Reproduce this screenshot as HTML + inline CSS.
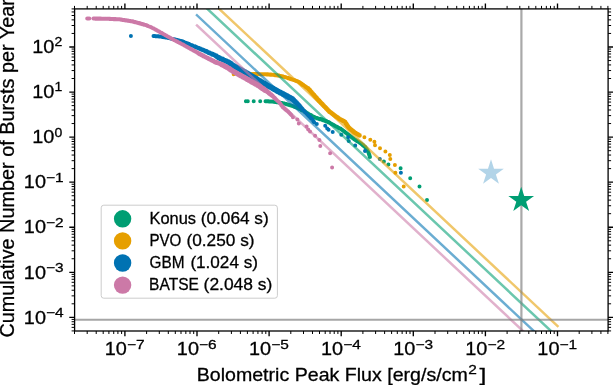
<!DOCTYPE html>
<html lang="en">
<head>
<meta charset="utf-8">
<title>Cumulative Number of Bursts per Year vs Bolometric Peak Flux</title>
<style>
html, body { margin: 0; padding: 0; background: #ffffff; }
body { width: 613px; height: 385px; overflow: hidden; position: relative;
       font-family: "Liberation Sans", sans-serif; }
svg text { font-family: "Liberation Sans", sans-serif; stroke: #000; stroke-width: 0.28px; }
svg { will-change: transform; }
</style>
</head>
<body>
<svg width="613" height="385" viewBox="0 0 613 385" style="display:block;position:absolute;left:0;top:0" font-family="'Liberation Sans', sans-serif" fill="#000">
<rect x="0" y="0" width="613" height="385" fill="#fff"/>
<defs><clipPath id="ax"><rect x="74.6" y="8.9" width="533.5" height="322.1"/></clipPath></defs>
<g clip-path="url(#ax)">
<path fill="#009E73" d="M243.9 101.3a2.00 2.00 0 1 0 4.00 0a2.00 2.00 0 1 0 -4.00 0zM245.8 101.3a2.00 2.00 0 1 0 4.00 0a2.00 2.00 0 1 0 -4.00 0zM251.7 101.3a2.00 2.00 0 1 0 4.00 0a2.00 2.00 0 1 0 -4.00 0zM258.2 101.3a2.00 2.00 0 1 0 4.00 0a2.00 2.00 0 1 0 -4.00 0zM263.5 101.3a2.00 2.00 0 1 0 4.00 0a2.00 2.00 0 1 0 -4.00 0zM264.3 101.3a2.00 2.00 0 1 0 4.00 0a2.00 2.00 0 1 0 -4.00 0zM265.2 101.3a2.00 2.00 0 1 0 4.00 0a2.00 2.00 0 1 0 -4.00 0zM266.0 101.3a2.00 2.00 0 1 0 4.00 0a2.00 2.00 0 1 0 -4.00 0zM266.8 101.4a2.00 2.00 0 1 0 4.00 0a2.00 2.00 0 1 0 -4.00 0zM267.6 101.4a2.00 2.00 0 1 0 4.00 0a2.00 2.00 0 1 0 -4.00 0zM268.5 101.4a2.00 2.00 0 1 0 4.00 0a2.00 2.00 0 1 0 -4.00 0zM269.3 101.4a2.00 2.00 0 1 0 4.00 0a2.00 2.00 0 1 0 -4.00 0zM269.3 101.4a2.00 2.00 0 1 0 4.00 0a2.00 2.00 0 1 0 -4.00 0zM270.2 101.5a2.00 2.00 0 1 0 4.00 0a2.00 2.00 0 1 0 -4.00 0zM271.1 101.7a2.00 2.00 0 1 0 4.00 0a2.00 2.00 0 1 0 -4.00 0zM271.9 101.8a2.00 2.00 0 1 0 4.00 0a2.00 2.00 0 1 0 -4.00 0zM272.8 101.9a2.00 2.00 0 1 0 4.00 0a2.00 2.00 0 1 0 -4.00 0zM273.7 102.1a2.00 2.00 0 1 0 4.00 0a2.00 2.00 0 1 0 -4.00 0zM274.6 102.2a2.00 2.00 0 1 0 4.00 0a2.00 2.00 0 1 0 -4.00 0zM275.4 102.3a2.00 2.00 0 1 0 4.00 0a2.00 2.00 0 1 0 -4.00 0zM276.3 102.5a2.00 2.00 0 1 0 4.00 0a2.00 2.00 0 1 0 -4.00 0zM277.2 102.6a2.00 2.00 0 1 0 4.00 0a2.00 2.00 0 1 0 -4.00 0zM277.2 102.6a2.00 2.00 0 1 0 4.00 0a2.00 2.00 0 1 0 -4.00 0zM278.0 102.8a2.00 2.00 0 1 0 4.00 0a2.00 2.00 0 1 0 -4.00 0zM278.8 102.9a2.00 2.00 0 1 0 4.00 0a2.00 2.00 0 1 0 -4.00 0zM279.6 103.1a2.00 2.00 0 1 0 4.00 0a2.00 2.00 0 1 0 -4.00 0zM280.4 103.2a2.00 2.00 0 1 0 4.00 0a2.00 2.00 0 1 0 -4.00 0zM281.3 103.4a2.00 2.00 0 1 0 4.00 0a2.00 2.00 0 1 0 -4.00 0zM282.1 103.6a2.00 2.00 0 1 0 4.00 0a2.00 2.00 0 1 0 -4.00 0zM282.9 103.7a2.00 2.00 0 1 0 4.00 0a2.00 2.00 0 1 0 -4.00 0zM283.7 103.9a2.00 2.00 0 1 0 4.00 0a2.00 2.00 0 1 0 -4.00 0zM283.7 103.9a2.00 2.00 0 1 0 4.00 0a2.00 2.00 0 1 0 -4.00 0zM284.5 104.2a2.00 2.00 0 1 0 4.00 0a2.00 2.00 0 1 0 -4.00 0zM285.3 104.4a2.00 2.00 0 1 0 4.00 0a2.00 2.00 0 1 0 -4.00 0zM286.1 104.7a2.00 2.00 0 1 0 4.00 0a2.00 2.00 0 1 0 -4.00 0zM286.9 104.9a2.00 2.00 0 1 0 4.00 0a2.00 2.00 0 1 0 -4.00 0zM287.8 105.2a2.00 2.00 0 1 0 4.00 0a2.00 2.00 0 1 0 -4.00 0zM288.6 105.4a2.00 2.00 0 1 0 4.00 0a2.00 2.00 0 1 0 -4.00 0zM289.4 105.7a2.00 2.00 0 1 0 4.00 0a2.00 2.00 0 1 0 -4.00 0zM290.2 105.9a2.00 2.00 0 1 0 4.00 0a2.00 2.00 0 1 0 -4.00 0zM290.2 105.9a2.00 2.00 0 1 0 4.00 0a2.00 2.00 0 1 0 -4.00 0zM291.0 106.2a2.00 2.00 0 1 0 4.00 0a2.00 2.00 0 1 0 -4.00 0zM291.8 106.6a2.00 2.00 0 1 0 4.00 0a2.00 2.00 0 1 0 -4.00 0zM292.6 106.9a2.00 2.00 0 1 0 4.00 0a2.00 2.00 0 1 0 -4.00 0zM293.4 107.2a2.00 2.00 0 1 0 4.00 0a2.00 2.00 0 1 0 -4.00 0zM294.3 107.5a2.00 2.00 0 1 0 4.00 0a2.00 2.00 0 1 0 -4.00 0zM295.1 107.8a2.00 2.00 0 1 0 4.00 0a2.00 2.00 0 1 0 -4.00 0zM295.9 108.2a2.00 2.00 0 1 0 4.00 0a2.00 2.00 0 1 0 -4.00 0zM296.7 108.5a2.00 2.00 0 1 0 4.00 0a2.00 2.00 0 1 0 -4.00 0zM296.7 108.5a2.00 2.00 0 1 0 4.00 0a2.00 2.00 0 1 0 -4.00 0zM297.4 108.9a2.00 2.00 0 1 0 4.00 0a2.00 2.00 0 1 0 -4.00 0zM298.2 109.2a2.00 2.00 0 1 0 4.00 0a2.00 2.00 0 1 0 -4.00 0zM298.9 109.6a2.00 2.00 0 1 0 4.01 0a2.00 2.00 0 1 0 -4.01 0zM299.6 110.0a2.01 2.01 0 1 0 4.01 0a2.01 2.01 0 1 0 -4.01 0zM300.4 110.3a2.01 2.01 0 1 0 4.02 0a2.01 2.01 0 1 0 -4.02 0zM301.1 110.7a2.01 2.01 0 1 0 4.02 0a2.01 2.01 0 1 0 -4.02 0zM301.8 111.1a2.01 2.01 0 1 0 4.03 0a2.01 2.01 0 1 0 -4.03 0zM302.6 111.4a2.02 2.02 0 1 0 4.03 0a2.02 2.02 0 1 0 -4.03 0zM303.3 111.8a2.02 2.02 0 1 0 4.04 0a2.02 2.02 0 1 0 -4.04 0zM303.3 111.8a2.02 2.02 0 1 0 4.04 0a2.02 2.02 0 1 0 -4.04 0zM304.0 112.3a2.02 2.02 0 1 0 4.04 0a2.02 2.02 0 1 0 -4.04 0zM304.8 112.8a2.02 2.02 0 1 0 4.05 0a2.02 2.02 0 1 0 -4.05 0zM305.6 113.3a2.03 2.03 0 1 0 4.05 0a2.03 2.03 0 1 0 -4.05 0zM306.3 113.7a2.03 2.03 0 1 0 4.06 0a2.03 2.03 0 1 0 -4.06 0zM307.1 114.2a2.03 2.03 0 1 0 4.06 0a2.03 2.03 0 1 0 -4.06 0zM307.1 114.2a2.03 2.03 0 1 0 4.06 0a2.03 2.03 0 1 0 -4.06 0zM307.8 114.6a2.03 2.03 0 1 0 4.07 0a2.03 2.03 0 1 0 -4.07 0zM308.5 115.0a2.04 2.04 0 1 0 4.07 0a2.04 2.04 0 1 0 -4.07 0zM309.2 115.4a2.04 2.04 0 1 0 4.08 0a2.04 2.04 0 1 0 -4.08 0zM309.9 115.8a2.04 2.04 0 1 0 4.08 0a2.04 2.04 0 1 0 -4.08 0zM310.7 116.2a2.04 2.04 0 1 0 4.08 0a2.04 2.04 0 1 0 -4.08 0zM311.4 116.6a2.04 2.04 0 1 0 4.09 0a2.04 2.04 0 1 0 -4.09 0zM312.1 117.0a2.05 2.05 0 1 0 4.09 0a2.05 2.05 0 1 0 -4.09 0zM312.8 117.4a2.05 2.05 0 1 0 4.10 0a2.05 2.05 0 1 0 -4.10 0zM313.5 117.8a2.05 2.05 0 1 0 4.10 0a2.05 2.05 0 1 0 -4.10 0zM313.5 117.8a2.05 2.05 0 1 0 4.10 0a2.05 2.05 0 1 0 -4.10 0zM314.4 118.1a2.05 2.05 0 1 0 4.11 0a2.05 2.05 0 1 0 -4.11 0zM315.2 118.3a2.06 2.06 0 1 0 4.11 0a2.06 2.06 0 1 0 -4.11 0zM316.0 118.5a2.06 2.06 0 1 0 4.12 0a2.06 2.06 0 1 0 -4.12 0zM316.8 118.7a2.06 2.06 0 1 0 4.13 0a2.06 2.06 0 1 0 -4.13 0zM317.6 119.0a2.07 2.07 0 1 0 4.13 0a2.07 2.07 0 1 0 -4.13 0zM318.4 119.2a2.07 2.07 0 1 0 4.14 0a2.07 2.07 0 1 0 -4.14 0zM319.2 119.4a2.07 2.07 0 1 0 4.14 0a2.07 2.07 0 1 0 -4.14 0zM320.0 119.6a2.07 2.07 0 1 0 4.15 0a2.07 2.07 0 1 0 -4.15 0zM320.0 119.6a2.07 2.07 0 1 0 4.15 0a2.07 2.07 0 1 0 -4.15 0zM320.8 120.0a2.08 2.08 0 1 0 4.15 0a2.08 2.08 0 1 0 -4.15 0zM321.6 120.3a2.08 2.08 0 1 0 4.16 0a2.08 2.08 0 1 0 -4.16 0zM322.5 120.6a2.08 2.08 0 1 0 4.16 0a2.08 2.08 0 1 0 -4.16 0zM323.3 121.0a2.08 2.08 0 1 0 4.17 0a2.08 2.08 0 1 0 -4.17 0zM324.1 121.3a2.09 2.09 0 1 0 4.17 0a2.09 2.09 0 1 0 -4.17 0zM324.9 121.6a2.09 2.09 0 1 0 4.18 0a2.09 2.09 0 1 0 -4.18 0zM325.7 121.9a2.09 2.09 0 1 0 4.19 0a2.09 2.09 0 1 0 -4.19 0zM326.5 122.3a2.10 2.10 0 1 0 4.19 0a2.10 2.10 0 1 0 -4.19 0zM326.5 122.3a2.10 2.10 0 1 0 4.19 0a2.10 2.10 0 1 0 -4.19 0zM327.2 122.7a2.10 2.10 0 1 0 4.20 0a2.10 2.10 0 1 0 -4.20 0zM328.0 123.1a2.10 2.10 0 1 0 4.20 0a2.10 2.10 0 1 0 -4.20 0zM328.7 123.5a2.10 2.10 0 1 0 4.20 0a2.10 2.10 0 1 0 -4.20 0zM329.4 123.9a2.10 2.10 0 1 0 4.20 0a2.10 2.10 0 1 0 -4.20 0zM330.2 124.3a2.10 2.10 0 1 0 4.20 0a2.10 2.10 0 1 0 -4.20 0zM330.9 124.7a2.10 2.10 0 1 0 4.20 0a2.10 2.10 0 1 0 -4.20 0zM331.6 125.1a2.10 2.10 0 1 0 4.20 0a2.10 2.10 0 1 0 -4.20 0zM332.4 125.5a2.10 2.10 0 1 0 4.20 0a2.10 2.10 0 1 0 -4.20 0zM333.1 126.0a2.10 2.10 0 1 0 4.20 0a2.10 2.10 0 1 0 -4.20 0zM333.1 126.0a2.10 2.10 0 1 0 4.20 0a2.10 2.10 0 1 0 -4.20 0zM333.8 126.3a2.10 2.10 0 1 0 4.20 0a2.10 2.10 0 1 0 -4.20 0zM334.5 126.7a2.10 2.10 0 1 0 4.20 0a2.10 2.10 0 1 0 -4.20 0zM335.3 127.1a2.10 2.10 0 1 0 4.20 0a2.10 2.10 0 1 0 -4.20 0zM336.0 127.5a2.10 2.10 0 1 0 4.20 0a2.10 2.10 0 1 0 -4.20 0zM336.7 127.9a2.10 2.10 0 1 0 4.20 0a2.10 2.10 0 1 0 -4.20 0zM337.4 128.3a2.10 2.10 0 1 0 4.20 0a2.10 2.10 0 1 0 -4.20 0zM338.2 128.7a2.10 2.10 0 1 0 4.20 0a2.10 2.10 0 1 0 -4.20 0zM338.9 129.1a2.10 2.10 0 1 0 4.20 0a2.10 2.10 0 1 0 -4.20 0zM339.6 129.5a2.10 2.10 0 1 0 4.20 0a2.10 2.10 0 1 0 -4.20 0zM339.6 129.5a2.10 2.10 0 1 0 4.20 0a2.10 2.10 0 1 0 -4.20 0zM340.2 130.0a2.10 2.10 0 1 0 4.20 0a2.10 2.10 0 1 0 -4.20 0zM340.9 130.5a2.10 2.10 0 1 0 4.20 0a2.10 2.10 0 1 0 -4.20 0zM341.5 131.0a2.10 2.10 0 1 0 4.20 0a2.10 2.10 0 1 0 -4.20 0zM342.2 131.5a2.10 2.10 0 1 0 4.20 0a2.10 2.10 0 1 0 -4.20 0zM342.8 132.1a2.10 2.10 0 1 0 4.20 0a2.10 2.10 0 1 0 -4.20 0zM343.5 132.6a2.10 2.10 0 1 0 4.20 0a2.10 2.10 0 1 0 -4.20 0zM344.1 133.1a2.10 2.10 0 1 0 4.20 0a2.10 2.10 0 1 0 -4.20 0zM344.8 133.6a2.10 2.10 0 1 0 4.20 0a2.10 2.10 0 1 0 -4.20 0zM345.4 134.1a2.10 2.10 0 1 0 4.20 0a2.10 2.10 0 1 0 -4.20 0zM346.1 134.7a2.10 2.10 0 1 0 4.20 0a2.10 2.10 0 1 0 -4.20 0zM346.1 134.7a2.10 2.10 0 1 0 4.20 0a2.10 2.10 0 1 0 -4.20 0zM346.7 135.1a2.10 2.10 0 1 0 4.20 0a2.10 2.10 0 1 0 -4.20 0zM347.4 135.6a2.10 2.10 0 1 0 4.20 0a2.10 2.10 0 1 0 -4.20 0zM348.0 136.1a2.10 2.10 0 1 0 4.20 0a2.10 2.10 0 1 0 -4.20 0zM348.7 136.6a2.10 2.10 0 1 0 4.20 0a2.10 2.10 0 1 0 -4.20 0zM349.3 137.1a2.10 2.10 0 1 0 4.20 0a2.10 2.10 0 1 0 -4.20 0zM350.0 137.5a2.10 2.10 0 1 0 4.20 0a2.10 2.10 0 1 0 -4.20 0zM350.6 138.0a2.10 2.10 0 1 0 4.20 0a2.10 2.10 0 1 0 -4.20 0zM351.3 138.5a2.10 2.10 0 1 0 4.20 0a2.10 2.10 0 1 0 -4.20 0zM351.9 139.0a2.10 2.10 0 1 0 4.20 0a2.10 2.10 0 1 0 -4.20 0zM352.6 139.5a2.10 2.10 0 1 0 4.20 0a2.10 2.10 0 1 0 -4.20 0zM352.6 139.5a2.10 2.10 0 1 0 4.20 0a2.10 2.10 0 1 0 -4.20 0zM353.3 139.9a2.10 2.10 0 1 0 4.20 0a2.10 2.10 0 1 0 -4.20 0zM354.1 140.4a2.10 2.10 0 1 0 4.20 0a2.10 2.10 0 1 0 -4.20 0zM354.8 140.9a2.10 2.10 0 1 0 4.20 0a2.10 2.10 0 1 0 -4.20 0zM355.5 141.4a2.10 2.10 0 1 0 4.20 0a2.10 2.10 0 1 0 -4.20 0zM356.3 141.8a2.10 2.10 0 1 0 4.20 0a2.10 2.10 0 1 0 -4.20 0zM357.0 142.3a2.10 2.10 0 1 0 4.20 0a2.10 2.10 0 1 0 -4.20 0zM357.7 142.8a2.10 2.10 0 1 0 4.20 0a2.10 2.10 0 1 0 -4.20 0zM358.5 143.3a2.10 2.10 0 1 0 4.20 0a2.10 2.10 0 1 0 -4.20 0zM359.2 143.8a2.10 2.10 0 1 0 4.20 0a2.10 2.10 0 1 0 -4.20 0zM359.2 143.8a2.10 2.10 0 1 0 4.20 0a2.10 2.10 0 1 0 -4.20 0zM359.8 144.3a2.10 2.10 0 1 0 4.20 0a2.10 2.10 0 1 0 -4.20 0zM360.5 144.9a2.10 2.10 0 1 0 4.20 0a2.10 2.10 0 1 0 -4.20 0zM361.1 145.4a2.10 2.10 0 1 0 4.20 0a2.10 2.10 0 1 0 -4.20 0zM361.8 146.0a2.10 2.10 0 1 0 4.20 0a2.10 2.10 0 1 0 -4.20 0zM362.4 146.5a2.10 2.10 0 1 0 4.20 0a2.10 2.10 0 1 0 -4.20 0zM363.1 147.1a2.10 2.10 0 1 0 4.20 0a2.10 2.10 0 1 0 -4.20 0zM363.1 147.1a2.10 2.10 0 1 0 4.20 0a2.10 2.10 0 1 0 -4.20 0zM363.5 147.8a2.10 2.10 0 1 0 4.20 0a2.10 2.10 0 1 0 -4.20 0zM364.0 148.5a2.10 2.10 0 1 0 4.20 0a2.10 2.10 0 1 0 -4.20 0zM364.4 149.2a2.10 2.10 0 1 0 4.20 0a2.10 2.10 0 1 0 -4.20 0zM364.9 149.9a2.10 2.10 0 1 0 4.20 0a2.10 2.10 0 1 0 -4.20 0zM365.3 150.6a2.10 2.10 0 1 0 4.20 0a2.10 2.10 0 1 0 -4.20 0zM365.8 151.3a2.10 2.10 0 1 0 4.20 0a2.10 2.10 0 1 0 -4.20 0zM366.2 152.0a2.10 2.10 0 1 0 4.20 0a2.10 2.10 0 1 0 -4.20 0zM366.2 152.0a2.10 2.10 0 1 0 4.20 0a2.10 2.10 0 1 0 -4.20 0zM366.5 152.8a2.10 2.10 0 1 0 4.20 0a2.10 2.10 0 1 0 -4.20 0zM366.7 153.6a2.10 2.10 0 1 0 4.20 0a2.10 2.10 0 1 0 -4.20 0zM367.0 154.4a2.10 2.10 0 1 0 4.20 0a2.10 2.10 0 1 0 -4.20 0zM367.3 155.2a2.10 2.10 0 1 0 4.20 0a2.10 2.10 0 1 0 -4.20 0zM367.5 156.0a2.10 2.10 0 1 0 4.20 0a2.10 2.10 0 1 0 -4.20 0zM367.8 156.9a2.10 2.10 0 1 0 4.20 0a2.10 2.10 0 1 0 -4.20 0zM381.9 161.6a2.00 2.00 0 1 0 4.00 0a2.00 2.00 0 1 0 -4.00 0zM386.4 164.5a2.00 2.00 0 1 0 4.00 0a2.00 2.00 0 1 0 -4.00 0zM398.6 168.3a2.00 2.00 0 1 0 4.00 0a2.00 2.00 0 1 0 -4.00 0zM408.2 178.3a2.00 2.00 0 1 0 4.00 0a2.00 2.00 0 1 0 -4.00 0zM417.5 186.4a2.00 2.00 0 1 0 4.00 0a2.00 2.00 0 1 0 -4.00 0zM425.0 199.9a2.00 2.00 0 1 0 4.00 0a2.00 2.00 0 1 0 -4.00 0z"/>
<path fill="#E69F00" d="M231.7 74.2a2.00 2.00 0 1 0 4.00 0a2.00 2.00 0 1 0 -4.00 0zM239.9 73.8a2.00 2.00 0 1 0 4.00 0a2.00 2.00 0 1 0 -4.00 0zM249.9 74.0a2.05 2.05 0 1 0 4.10 0a2.05 2.05 0 1 0 -4.10 0zM250.8 74.0a2.05 2.05 0 1 0 4.10 0a2.05 2.05 0 1 0 -4.10 0zM251.6 74.1a2.05 2.05 0 1 0 4.10 0a2.05 2.05 0 1 0 -4.10 0zM252.4 74.1a2.05 2.05 0 1 0 4.10 0a2.05 2.05 0 1 0 -4.10 0zM253.2 74.1a2.05 2.05 0 1 0 4.10 0a2.05 2.05 0 1 0 -4.10 0zM254.0 74.1a2.05 2.05 0 1 0 4.10 0a2.05 2.05 0 1 0 -4.10 0zM254.8 74.1a2.05 2.05 0 1 0 4.10 0a2.05 2.05 0 1 0 -4.10 0zM255.6 74.2a2.05 2.05 0 1 0 4.10 0a2.05 2.05 0 1 0 -4.10 0zM256.4 74.2a2.05 2.05 0 1 0 4.10 0a2.05 2.05 0 1 0 -4.10 0zM257.2 74.2a2.05 2.05 0 1 0 4.10 0a2.05 2.05 0 1 0 -4.10 0zM258.0 74.2a2.05 2.05 0 1 0 4.10 0a2.05 2.05 0 1 0 -4.10 0zM258.8 74.2a2.05 2.05 0 1 0 4.10 0a2.05 2.05 0 1 0 -4.10 0zM259.6 74.2a2.05 2.05 0 1 0 4.10 0a2.05 2.05 0 1 0 -4.10 0zM260.4 74.3a2.05 2.05 0 1 0 4.10 0a2.05 2.05 0 1 0 -4.10 0zM261.2 74.3a2.05 2.05 0 1 0 4.10 0a2.05 2.05 0 1 0 -4.10 0zM262.0 74.3a2.05 2.05 0 1 0 4.10 0a2.05 2.05 0 1 0 -4.10 0zM262.8 74.3a2.05 2.05 0 1 0 4.10 0a2.05 2.05 0 1 0 -4.10 0zM263.6 74.3a2.05 2.05 0 1 0 4.10 0a2.05 2.05 0 1 0 -4.10 0zM263.6 74.3a2.05 2.05 0 1 0 4.10 0a2.05 2.05 0 1 0 -4.10 0zM264.5 74.4a2.05 2.05 0 1 0 4.10 0a2.05 2.05 0 1 0 -4.10 0zM265.3 74.4a2.05 2.05 0 1 0 4.10 0a2.05 2.05 0 1 0 -4.10 0zM266.1 74.5a2.05 2.05 0 1 0 4.10 0a2.05 2.05 0 1 0 -4.10 0zM266.9 74.5a2.05 2.05 0 1 0 4.10 0a2.05 2.05 0 1 0 -4.10 0zM267.7 74.6a2.05 2.05 0 1 0 4.10 0a2.05 2.05 0 1 0 -4.10 0zM268.5 74.6a2.05 2.05 0 1 0 4.10 0a2.05 2.05 0 1 0 -4.10 0zM269.3 74.7a2.05 2.05 0 1 0 4.10 0a2.05 2.05 0 1 0 -4.10 0zM270.1 74.7a2.05 2.05 0 1 0 4.10 0a2.05 2.05 0 1 0 -4.10 0zM270.1 74.7a2.05 2.05 0 1 0 4.10 0a2.05 2.05 0 1 0 -4.10 0zM271.0 74.8a2.05 2.05 0 1 0 4.10 0a2.05 2.05 0 1 0 -4.10 0zM271.8 75.0a2.05 2.05 0 1 0 4.10 0a2.05 2.05 0 1 0 -4.10 0zM272.6 75.1a2.05 2.05 0 1 0 4.10 0a2.05 2.05 0 1 0 -4.10 0zM273.4 75.2a2.05 2.05 0 1 0 4.10 0a2.05 2.05 0 1 0 -4.10 0zM274.2 75.3a2.05 2.05 0 1 0 4.10 0a2.05 2.05 0 1 0 -4.10 0zM275.0 75.4a2.05 2.05 0 1 0 4.10 0a2.05 2.05 0 1 0 -4.10 0zM275.8 75.5a2.05 2.05 0 1 0 4.10 0a2.05 2.05 0 1 0 -4.10 0zM276.6 75.6a2.05 2.05 0 1 0 4.10 0a2.05 2.05 0 1 0 -4.10 0zM276.6 75.6a2.05 2.05 0 1 0 4.10 0a2.05 2.05 0 1 0 -4.10 0zM277.5 75.8a2.05 2.05 0 1 0 4.10 0a2.05 2.05 0 1 0 -4.10 0zM278.3 76.0a2.05 2.05 0 1 0 4.10 0a2.05 2.05 0 1 0 -4.10 0zM279.1 76.2a2.05 2.05 0 1 0 4.10 0a2.05 2.05 0 1 0 -4.10 0zM279.9 76.4a2.05 2.05 0 1 0 4.10 0a2.05 2.05 0 1 0 -4.10 0zM280.8 76.6a2.05 2.05 0 1 0 4.10 0a2.05 2.05 0 1 0 -4.10 0zM281.6 76.8a2.05 2.05 0 1 0 4.10 0a2.05 2.05 0 1 0 -4.10 0zM282.4 77.0a2.05 2.05 0 1 0 4.10 0a2.05 2.05 0 1 0 -4.10 0zM283.2 77.2a2.05 2.05 0 1 0 4.10 0a2.05 2.05 0 1 0 -4.10 0zM283.2 77.2a2.05 2.05 0 1 0 4.10 0a2.05 2.05 0 1 0 -4.10 0zM284.1 77.5a2.05 2.05 0 1 0 4.10 0a2.05 2.05 0 1 0 -4.10 0zM284.9 77.8a2.05 2.05 0 1 0 4.10 0a2.05 2.05 0 1 0 -4.10 0zM285.7 78.1a2.05 2.05 0 1 0 4.10 0a2.05 2.05 0 1 0 -4.10 0zM286.5 78.3a2.05 2.05 0 1 0 4.10 0a2.05 2.05 0 1 0 -4.10 0zM287.3 78.6a2.05 2.05 0 1 0 4.10 0a2.05 2.05 0 1 0 -4.10 0zM288.1 78.9a2.05 2.05 0 1 0 4.10 0a2.05 2.05 0 1 0 -4.10 0zM288.9 79.2a2.05 2.05 0 1 0 4.10 0a2.05 2.05 0 1 0 -4.10 0zM289.8 79.4a2.05 2.05 0 1 0 4.10 0a2.05 2.05 0 1 0 -4.10 0zM289.8 79.4a2.05 2.05 0 1 0 4.10 0a2.05 2.05 0 1 0 -4.10 0zM290.6 79.7a2.05 2.05 0 1 0 4.10 0a2.05 2.05 0 1 0 -4.10 0zM291.4 80.0a2.05 2.05 0 1 0 4.10 0a2.05 2.05 0 1 0 -4.10 0zM292.3 80.3a2.05 2.05 0 1 0 4.10 0a2.05 2.05 0 1 0 -4.10 0zM293.1 80.6a2.05 2.05 0 1 0 4.10 0a2.05 2.05 0 1 0 -4.10 0zM293.9 80.9a2.06 2.06 0 1 0 4.12 0a2.06 2.06 0 1 0 -4.12 0zM294.8 81.2a2.07 2.07 0 1 0 4.15 0a2.07 2.07 0 1 0 -4.15 0zM295.6 81.5a2.08 2.08 0 1 0 4.17 0a2.08 2.08 0 1 0 -4.17 0zM296.4 81.8a2.09 2.09 0 1 0 4.19 0a2.09 2.09 0 1 0 -4.19 0zM296.4 81.8a2.09 2.09 0 1 0 4.19 0a2.09 2.09 0 1 0 -4.19 0zM297.1 82.2a2.10 2.10 0 1 0 4.20 0a2.10 2.10 0 1 0 -4.20 0zM297.8 82.7a2.11 2.11 0 1 0 4.22 0a2.11 2.11 0 1 0 -4.22 0zM298.5 83.2a2.12 2.12 0 1 0 4.24 0a2.12 2.12 0 1 0 -4.24 0zM299.2 83.7a2.13 2.13 0 1 0 4.26 0a2.13 2.13 0 1 0 -4.26 0zM299.9 84.2a2.14 2.14 0 1 0 4.27 0a2.14 2.14 0 1 0 -4.27 0zM300.6 84.7a2.15 2.15 0 1 0 4.29 0a2.15 2.15 0 1 0 -4.29 0zM301.2 85.1a2.15 2.15 0 1 0 4.31 0a2.15 2.15 0 1 0 -4.31 0zM301.9 85.6a2.16 2.16 0 1 0 4.33 0a2.16 2.16 0 1 0 -4.33 0zM302.6 86.1a2.17 2.17 0 1 0 4.34 0a2.17 2.17 0 1 0 -4.34 0zM303.3 86.6a2.18 2.18 0 1 0 4.36 0a2.18 2.18 0 1 0 -4.36 0zM304.0 87.1a2.19 2.19 0 1 0 4.38 0a2.19 2.19 0 1 0 -4.38 0zM304.7 87.6a2.20 2.20 0 1 0 4.40 0a2.20 2.20 0 1 0 -4.40 0zM305.4 88.0a2.21 2.21 0 1 0 4.42 0a2.21 2.21 0 1 0 -4.42 0zM306.1 88.5a2.22 2.22 0 1 0 4.43 0a2.22 2.22 0 1 0 -4.43 0zM306.1 88.5a2.22 2.22 0 1 0 4.43 0a2.22 2.22 0 1 0 -4.43 0zM306.6 89.2a2.22 2.22 0 1 0 4.45 0a2.22 2.22 0 1 0 -4.45 0zM307.2 89.8a2.23 2.23 0 1 0 4.46 0a2.23 2.23 0 1 0 -4.46 0zM307.7 90.4a2.24 2.24 0 1 0 4.47 0a2.24 2.24 0 1 0 -4.47 0zM308.2 91.0a2.24 2.24 0 1 0 4.49 0a2.24 2.24 0 1 0 -4.49 0zM308.8 91.7a2.25 2.25 0 1 0 4.50 0a2.25 2.25 0 1 0 -4.50 0zM309.3 92.3a2.26 2.26 0 1 0 4.51 0a2.26 2.26 0 1 0 -4.51 0zM309.8 92.9a2.26 2.26 0 1 0 4.53 0a2.26 2.26 0 1 0 -4.53 0zM310.4 93.5a2.27 2.27 0 1 0 4.54 0a2.27 2.27 0 1 0 -4.54 0zM310.9 94.2a2.28 2.28 0 1 0 4.56 0a2.28 2.28 0 1 0 -4.56 0zM311.5 94.8a2.28 2.28 0 1 0 4.57 0a2.28 2.28 0 1 0 -4.57 0zM312.0 95.4a2.29 2.29 0 1 0 4.58 0a2.29 2.29 0 1 0 -4.58 0zM312.5 96.0a2.30 2.30 0 1 0 4.60 0a2.30 2.30 0 1 0 -4.60 0zM313.1 96.7a2.30 2.30 0 1 0 4.60 0a2.30 2.30 0 1 0 -4.60 0zM313.6 97.3a2.30 2.30 0 1 0 4.60 0a2.30 2.30 0 1 0 -4.60 0zM314.2 97.9a2.30 2.30 0 1 0 4.60 0a2.30 2.30 0 1 0 -4.60 0zM314.7 98.5a2.30 2.30 0 1 0 4.60 0a2.30 2.30 0 1 0 -4.60 0zM315.3 99.2a2.30 2.30 0 1 0 4.60 0a2.30 2.30 0 1 0 -4.60 0zM315.8 99.8a2.30 2.30 0 1 0 4.60 0a2.30 2.30 0 1 0 -4.60 0zM315.8 99.8a2.30 2.30 0 1 0 4.60 0a2.30 2.30 0 1 0 -4.60 0zM316.4 100.4a2.30 2.30 0 1 0 4.60 0a2.30 2.30 0 1 0 -4.60 0zM316.9 100.9a2.30 2.30 0 1 0 4.60 0a2.30 2.30 0 1 0 -4.60 0zM317.5 101.5a2.30 2.30 0 1 0 4.60 0a2.30 2.30 0 1 0 -4.60 0zM318.0 102.1a2.30 2.30 0 1 0 4.60 0a2.30 2.30 0 1 0 -4.60 0zM318.6 102.7a2.30 2.30 0 1 0 4.60 0a2.30 2.30 0 1 0 -4.60 0zM319.1 103.3a2.30 2.30 0 1 0 4.60 0a2.30 2.30 0 1 0 -4.60 0zM319.7 103.8a2.30 2.30 0 1 0 4.60 0a2.30 2.30 0 1 0 -4.60 0zM320.2 104.4a2.30 2.30 0 1 0 4.60 0a2.30 2.30 0 1 0 -4.60 0zM320.8 105.0a2.30 2.30 0 1 0 4.60 0a2.30 2.30 0 1 0 -4.60 0zM321.3 105.6a2.30 2.30 0 1 0 4.60 0a2.30 2.30 0 1 0 -4.60 0zM321.9 106.2a2.30 2.30 0 1 0 4.60 0a2.30 2.30 0 1 0 -4.60 0zM322.5 106.7a2.30 2.30 0 1 0 4.60 0a2.30 2.30 0 1 0 -4.60 0zM323.0 107.3a2.30 2.30 0 1 0 4.60 0a2.30 2.30 0 1 0 -4.60 0zM323.6 107.9a2.30 2.30 0 1 0 4.60 0a2.30 2.30 0 1 0 -4.60 0zM324.1 108.5a2.30 2.30 0 1 0 4.60 0a2.30 2.30 0 1 0 -4.60 0zM324.7 109.1a2.30 2.30 0 1 0 4.60 0a2.30 2.30 0 1 0 -4.60 0zM325.2 109.6a2.30 2.30 0 1 0 4.60 0a2.30 2.30 0 1 0 -4.60 0zM325.8 110.2a2.30 2.30 0 1 0 4.60 0a2.30 2.30 0 1 0 -4.60 0zM326.3 110.8a2.30 2.30 0 1 0 4.60 0a2.30 2.30 0 1 0 -4.60 0zM326.9 111.4a2.30 2.30 0 1 0 4.60 0a2.30 2.30 0 1 0 -4.60 0zM326.9 111.4a2.30 2.30 0 1 0 4.60 0a2.30 2.30 0 1 0 -4.60 0zM327.5 111.9a2.30 2.30 0 1 0 4.60 0a2.30 2.30 0 1 0 -4.60 0zM328.2 112.3a2.30 2.30 0 1 0 4.60 0a2.30 2.30 0 1 0 -4.60 0zM328.8 112.8a2.30 2.30 0 1 0 4.60 0a2.30 2.30 0 1 0 -4.60 0zM329.5 113.3a2.30 2.30 0 1 0 4.60 0a2.30 2.30 0 1 0 -4.60 0zM330.1 113.8a2.30 2.30 0 1 0 4.60 0a2.30 2.30 0 1 0 -4.60 0zM330.8 114.3a2.30 2.30 0 1 0 4.60 0a2.30 2.30 0 1 0 -4.60 0zM331.4 114.7a2.30 2.30 0 1 0 4.60 0a2.30 2.30 0 1 0 -4.60 0zM332.1 115.2a2.30 2.30 0 1 0 4.60 0a2.30 2.30 0 1 0 -4.60 0zM332.7 115.7a2.30 2.30 0 1 0 4.60 0a2.30 2.30 0 1 0 -4.60 0zM333.4 116.2a2.30 2.30 0 1 0 4.60 0a2.30 2.30 0 1 0 -4.60 0zM334.0 116.7a2.30 2.30 0 1 0 4.60 0a2.30 2.30 0 1 0 -4.60 0zM334.7 117.1a2.30 2.30 0 1 0 4.60 0a2.30 2.30 0 1 0 -4.60 0zM335.3 117.6a2.30 2.30 0 1 0 4.60 0a2.30 2.30 0 1 0 -4.60 0zM336.0 118.1a2.30 2.30 0 1 0 4.60 0a2.30 2.30 0 1 0 -4.60 0zM336.6 118.6a2.30 2.30 0 1 0 4.60 0a2.30 2.30 0 1 0 -4.60 0zM336.6 118.6a2.30 2.30 0 1 0 4.60 0a2.30 2.30 0 1 0 -4.60 0zM337.3 119.0a2.30 2.30 0 1 0 4.60 0a2.30 2.30 0 1 0 -4.60 0zM338.1 119.4a2.30 2.30 0 1 0 4.60 0a2.30 2.30 0 1 0 -4.60 0zM338.8 119.7a2.30 2.30 0 1 0 4.60 0a2.30 2.30 0 1 0 -4.60 0zM339.6 120.1a2.30 2.30 0 1 0 4.60 0a2.30 2.30 0 1 0 -4.60 0zM340.3 120.5a2.30 2.30 0 1 0 4.60 0a2.30 2.30 0 1 0 -4.60 0zM341.0 120.9a2.30 2.30 0 1 0 4.60 0a2.30 2.30 0 1 0 -4.60 0zM341.8 121.3a2.30 2.30 0 1 0 4.60 0a2.30 2.30 0 1 0 -4.60 0zM342.5 121.7a2.30 2.30 0 1 0 4.60 0a2.30 2.30 0 1 0 -4.60 0zM342.5 121.7a2.30 2.30 0 1 0 4.60 0a2.30 2.30 0 1 0 -4.60 0zM343.0 122.4a2.30 2.30 0 1 0 4.60 0a2.30 2.30 0 1 0 -4.60 0zM343.5 123.2a2.30 2.30 0 1 0 4.60 0a2.30 2.30 0 1 0 -4.60 0zM344.0 123.9a2.30 2.30 0 1 0 4.60 0a2.30 2.30 0 1 0 -4.60 0zM344.4 124.6a2.30 2.30 0 1 0 4.60 0a2.30 2.30 0 1 0 -4.60 0zM344.9 125.4a2.30 2.30 0 1 0 4.60 0a2.30 2.30 0 1 0 -4.60 0zM345.4 126.1a2.30 2.30 0 1 0 4.60 0a2.30 2.30 0 1 0 -4.60 0zM345.9 126.8a2.30 2.30 0 1 0 4.60 0a2.30 2.30 0 1 0 -4.60 0zM346.4 127.6a2.30 2.30 0 1 0 4.60 0a2.30 2.30 0 1 0 -4.60 0zM346.4 127.6a2.30 2.30 0 1 0 4.60 0a2.30 2.30 0 1 0 -4.60 0zM347.1 128.1a2.30 2.30 0 1 0 4.60 0a2.30 2.30 0 1 0 -4.60 0zM347.7 128.7a2.30 2.30 0 1 0 4.60 0a2.30 2.30 0 1 0 -4.60 0zM348.4 129.2a2.30 2.30 0 1 0 4.60 0a2.30 2.30 0 1 0 -4.60 0zM349.0 129.8a2.30 2.30 0 1 0 4.60 0a2.30 2.30 0 1 0 -4.60 0zM349.7 130.3a2.30 2.30 0 1 0 4.60 0a2.30 2.30 0 1 0 -4.60 0zM350.3 130.8a2.30 2.30 0 1 0 4.60 0a2.30 2.30 0 1 0 -4.60 0zM351.0 131.4a2.30 2.30 0 1 0 4.60 0a2.30 2.30 0 1 0 -4.60 0zM351.6 131.9a2.30 2.30 0 1 0 4.60 0a2.30 2.30 0 1 0 -4.60 0zM352.3 132.5a2.30 2.30 0 1 0 4.60 0a2.30 2.30 0 1 0 -4.60 0zM352.3 132.5a2.30 2.30 0 1 0 4.60 0a2.30 2.30 0 1 0 -4.60 0zM353.0 132.9a2.30 2.30 0 1 0 4.60 0a2.30 2.30 0 1 0 -4.60 0zM353.7 133.3a2.30 2.30 0 1 0 4.60 0a2.30 2.30 0 1 0 -4.60 0zM354.4 133.7a2.30 2.30 0 1 0 4.60 0a2.30 2.30 0 1 0 -4.60 0zM355.1 134.1a2.30 2.30 0 1 0 4.60 0a2.30 2.30 0 1 0 -4.60 0zM355.8 134.6a2.30 2.30 0 1 0 4.60 0a2.30 2.30 0 1 0 -4.60 0zM356.5 135.0a2.30 2.30 0 1 0 4.60 0a2.30 2.30 0 1 0 -4.60 0zM357.2 135.4a2.30 2.30 0 1 0 4.60 0a2.30 2.30 0 1 0 -4.60 0zM362.4 137.2a2.00 2.00 0 1 0 4.00 0a2.00 2.00 0 1 0 -4.00 0zM368.3 139.7a2.00 2.00 0 1 0 4.00 0a2.00 2.00 0 1 0 -4.00 0zM372.4 141.7a2.00 2.00 0 1 0 4.00 0a2.00 2.00 0 1 0 -4.00 0zM373.0 145.3a2.00 2.00 0 1 0 4.00 0a2.00 2.00 0 1 0 -4.00 0zM378.0 148.3a2.00 2.00 0 1 0 4.00 0a2.00 2.00 0 1 0 -4.00 0zM383.4 151.4a2.00 2.00 0 1 0 4.00 0a2.00 2.00 0 1 0 -4.00 0zM387.8 155.1a2.00 2.00 0 1 0 4.00 0a2.00 2.00 0 1 0 -4.00 0zM388.3 159.0a2.00 2.00 0 1 0 4.00 0a2.00 2.00 0 1 0 -4.00 0zM392.9 164.9a2.00 2.00 0 1 0 4.00 0a2.00 2.00 0 1 0 -4.00 0zM393.4 172.7a2.00 2.00 0 1 0 4.00 0a2.00 2.00 0 1 0 -4.00 0zM401.7 186.6a2.00 2.00 0 1 0 4.00 0a2.00 2.00 0 1 0 -4.00 0z"/>
<path fill="#0072B2" d="M128.9 36.1a2.00 2.00 0 1 0 4.00 0a2.00 2.00 0 1 0 -4.00 0zM151.5 36.1a2.00 2.00 0 1 0 4.00 0a2.00 2.00 0 1 0 -4.00 0zM152.4 36.1a2.00 2.00 0 1 0 4.00 0a2.00 2.00 0 1 0 -4.00 0zM153.3 36.2a2.00 2.00 0 1 0 4.00 0a2.00 2.00 0 1 0 -4.00 0zM154.2 36.2a2.00 2.00 0 1 0 4.00 0a2.00 2.00 0 1 0 -4.00 0zM155.1 36.3a2.00 2.00 0 1 0 4.00 0a2.00 2.00 0 1 0 -4.00 0zM156.0 36.3a2.00 2.00 0 1 0 4.00 0a2.00 2.00 0 1 0 -4.00 0zM156.0 36.3a2.00 2.00 0 1 0 4.00 0a2.00 2.00 0 1 0 -4.00 0zM156.8 36.4a2.00 2.00 0 1 0 4.00 0a2.00 2.00 0 1 0 -4.00 0zM157.7 36.5a2.00 2.00 0 1 0 4.00 0a2.00 2.00 0 1 0 -4.00 0zM158.6 36.6a2.00 2.00 0 1 0 4.00 0a2.00 2.00 0 1 0 -4.00 0zM159.4 36.8a2.00 2.00 0 1 0 4.00 0a2.00 2.00 0 1 0 -4.00 0zM160.2 36.9a2.00 2.00 0 1 0 4.00 0a2.00 2.00 0 1 0 -4.00 0zM161.1 37.0a2.00 2.00 0 1 0 4.00 0a2.00 2.00 0 1 0 -4.00 0zM161.1 37.0a2.00 2.00 0 1 0 4.00 0a2.00 2.00 0 1 0 -4.00 0zM161.9 37.2a2.00 2.00 0 1 0 4.00 0a2.00 2.00 0 1 0 -4.00 0zM162.7 37.3a2.00 2.00 0 1 0 4.00 0a2.00 2.00 0 1 0 -4.00 0zM163.5 37.5a2.00 2.00 0 1 0 4.00 0a2.00 2.00 0 1 0 -4.00 0zM164.3 37.6a2.00 2.00 0 1 0 4.00 0a2.00 2.00 0 1 0 -4.00 0zM165.2 37.8a2.00 2.00 0 1 0 4.00 0a2.00 2.00 0 1 0 -4.00 0zM166.0 38.0a2.00 2.00 0 1 0 4.00 0a2.00 2.00 0 1 0 -4.00 0zM166.8 38.1a2.00 2.00 0 1 0 4.00 0a2.00 2.00 0 1 0 -4.00 0zM167.6 38.3a2.00 2.00 0 1 0 4.00 0a2.00 2.00 0 1 0 -4.00 0zM167.6 38.3a2.00 2.00 0 1 0 4.00 0a2.00 2.00 0 1 0 -4.00 0zM168.4 38.5a2.00 2.00 0 1 0 4.00 0a2.00 2.00 0 1 0 -4.00 0zM169.2 38.7a2.00 2.00 0 1 0 4.00 0a2.00 2.00 0 1 0 -4.00 0zM170.0 38.9a2.00 2.00 0 1 0 4.00 0a2.00 2.00 0 1 0 -4.00 0zM170.8 39.0a2.00 2.00 0 1 0 4.00 0a2.00 2.00 0 1 0 -4.00 0zM171.6 39.2a2.00 2.00 0 1 0 4.00 0a2.00 2.00 0 1 0 -4.00 0zM172.4 39.4a2.00 2.00 0 1 0 4.00 0a2.00 2.00 0 1 0 -4.00 0zM173.2 39.6a2.00 2.00 0 1 0 4.00 0a2.00 2.00 0 1 0 -4.00 0zM174.0 39.8a2.00 2.00 0 1 0 4.00 0a2.00 2.00 0 1 0 -4.00 0zM174.0 39.8a2.00 2.00 0 1 0 4.00 0a2.00 2.00 0 1 0 -4.00 0zM174.8 40.0a2.00 2.00 0 1 0 4.00 0a2.00 2.00 0 1 0 -4.00 0zM175.7 40.2a2.00 2.00 0 1 0 4.00 0a2.00 2.00 0 1 0 -4.00 0zM176.5 40.4a2.00 2.00 0 1 0 4.00 0a2.00 2.00 0 1 0 -4.00 0zM177.3 40.6a2.00 2.00 0 1 0 4.00 0a2.00 2.00 0 1 0 -4.00 0zM178.1 40.9a2.00 2.00 0 1 0 4.00 0a2.00 2.00 0 1 0 -4.00 0zM178.9 41.1a2.00 2.00 0 1 0 4.00 0a2.00 2.00 0 1 0 -4.00 0zM179.8 41.3a2.00 2.00 0 1 0 4.00 0a2.00 2.00 0 1 0 -4.00 0zM180.6 41.5a2.00 2.00 0 1 0 4.00 0a2.00 2.00 0 1 0 -4.00 0zM180.6 41.5a2.00 2.00 0 1 0 4.00 0a2.00 2.00 0 1 0 -4.00 0zM181.4 41.8a2.00 2.00 0 1 0 4.00 0a2.00 2.00 0 1 0 -4.00 0zM182.2 42.2a2.00 2.00 0 1 0 4.00 0a2.00 2.00 0 1 0 -4.00 0zM183.1 42.5a2.00 2.00 0 1 0 4.00 0a2.00 2.00 0 1 0 -4.00 0zM183.9 42.9a2.01 2.01 0 1 0 4.03 0a2.01 2.01 0 1 0 -4.03 0zM184.7 43.2a2.03 2.03 0 1 0 4.06 0a2.03 2.03 0 1 0 -4.06 0zM185.5 43.5a2.04 2.04 0 1 0 4.08 0a2.04 2.04 0 1 0 -4.08 0zM186.3 43.9a2.05 2.05 0 1 0 4.11 0a2.05 2.05 0 1 0 -4.11 0zM187.1 44.2a2.07 2.07 0 1 0 4.13 0a2.07 2.07 0 1 0 -4.13 0zM187.1 44.2a2.07 2.07 0 1 0 4.13 0a2.07 2.07 0 1 0 -4.13 0zM187.9 44.6a2.08 2.08 0 1 0 4.16 0a2.08 2.08 0 1 0 -4.16 0zM188.6 44.9a2.09 2.09 0 1 0 4.18 0a2.09 2.09 0 1 0 -4.18 0zM189.4 45.2a2.10 2.10 0 1 0 4.21 0a2.10 2.10 0 1 0 -4.21 0zM190.1 45.5a2.12 2.12 0 1 0 4.23 0a2.12 2.12 0 1 0 -4.23 0zM190.9 45.8a2.13 2.13 0 1 0 4.26 0a2.13 2.13 0 1 0 -4.26 0zM191.6 46.1a2.14 2.14 0 1 0 4.28 0a2.14 2.14 0 1 0 -4.28 0zM192.4 46.4a2.15 2.15 0 1 0 4.31 0a2.15 2.15 0 1 0 -4.31 0zM193.2 46.7a2.17 2.17 0 1 0 4.33 0a2.17 2.17 0 1 0 -4.33 0zM193.9 47.1a2.18 2.18 0 1 0 4.35 0a2.18 2.18 0 1 0 -4.35 0zM194.7 47.4a2.19 2.19 0 1 0 4.38 0a2.19 2.19 0 1 0 -4.38 0zM195.4 47.7a2.20 2.20 0 1 0 4.40 0a2.20 2.20 0 1 0 -4.40 0zM196.2 48.0a2.21 2.21 0 1 0 4.43 0a2.21 2.21 0 1 0 -4.43 0zM196.9 48.3a2.23 2.23 0 1 0 4.45 0a2.23 2.23 0 1 0 -4.45 0zM197.7 48.6a2.24 2.24 0 1 0 4.48 0a2.24 2.24 0 1 0 -4.48 0zM198.4 48.9a2.25 2.25 0 1 0 4.50 0a2.25 2.25 0 1 0 -4.50 0zM199.2 49.3a2.26 2.26 0 1 0 4.53 0a2.26 2.26 0 1 0 -4.53 0zM199.9 49.6a2.28 2.28 0 1 0 4.55 0a2.28 2.28 0 1 0 -4.55 0zM199.9 49.6a2.28 2.28 0 1 0 4.55 0a2.28 2.28 0 1 0 -4.55 0zM200.7 49.9a2.29 2.29 0 1 0 4.58 0a2.29 2.29 0 1 0 -4.58 0zM201.4 50.3a2.30 2.30 0 1 0 4.60 0a2.30 2.30 0 1 0 -4.60 0zM202.2 50.6a2.31 2.31 0 1 0 4.62 0a2.31 2.31 0 1 0 -4.62 0zM203.0 51.0a2.32 2.32 0 1 0 4.65 0a2.32 2.32 0 1 0 -4.65 0zM203.7 51.3a2.34 2.34 0 1 0 4.67 0a2.34 2.34 0 1 0 -4.67 0zM204.5 51.7a2.35 2.35 0 1 0 4.70 0a2.35 2.35 0 1 0 -4.70 0zM205.2 52.0a2.36 2.36 0 1 0 4.72 0a2.36 2.36 0 1 0 -4.72 0zM206.0 52.4a2.37 2.37 0 1 0 4.75 0a2.37 2.37 0 1 0 -4.75 0zM206.7 52.7a2.39 2.39 0 1 0 4.77 0a2.39 2.39 0 1 0 -4.77 0zM207.5 53.1a2.40 2.40 0 1 0 4.80 0a2.40 2.40 0 1 0 -4.80 0zM208.3 53.4a2.41 2.41 0 1 0 4.82 0a2.41 2.41 0 1 0 -4.82 0zM209.0 53.7a2.42 2.42 0 1 0 4.85 0a2.42 2.42 0 1 0 -4.85 0zM209.8 54.1a2.44 2.44 0 1 0 4.87 0a2.44 2.44 0 1 0 -4.87 0zM210.5 54.4a2.45 2.45 0 1 0 4.90 0a2.45 2.45 0 1 0 -4.90 0zM211.3 54.8a2.46 2.46 0 1 0 4.92 0a2.46 2.46 0 1 0 -4.92 0zM212.1 55.1a2.47 2.47 0 1 0 4.94 0a2.47 2.47 0 1 0 -4.94 0zM212.8 55.5a2.48 2.48 0 1 0 4.97 0a2.48 2.48 0 1 0 -4.97 0zM212.8 55.5a2.48 2.48 0 1 0 4.97 0a2.48 2.48 0 1 0 -4.97 0zM213.6 56.0a2.50 2.50 0 1 0 4.99 0a2.50 2.50 0 1 0 -4.99 0zM214.4 56.4a2.51 2.51 0 1 0 5.02 0a2.51 2.51 0 1 0 -5.02 0zM215.1 56.9a2.52 2.52 0 1 0 5.04 0a2.52 2.52 0 1 0 -5.04 0zM215.9 57.4a2.53 2.53 0 1 0 5.07 0a2.53 2.53 0 1 0 -5.07 0zM216.7 57.9a2.55 2.55 0 1 0 5.09 0a2.55 2.55 0 1 0 -5.09 0zM217.4 58.3a2.56 2.56 0 1 0 5.12 0a2.56 2.56 0 1 0 -5.12 0zM217.4 58.3a2.56 2.56 0 1 0 5.12 0a2.56 2.56 0 1 0 -5.12 0zM218.2 58.7a2.57 2.57 0 1 0 5.14 0a2.57 2.57 0 1 0 -5.14 0zM218.9 59.0a2.58 2.58 0 1 0 5.17 0a2.58 2.58 0 1 0 -5.17 0zM219.7 59.3a2.60 2.60 0 1 0 5.19 0a2.60 2.60 0 1 0 -5.19 0zM220.4 59.7a2.61 2.61 0 1 0 5.22 0a2.61 2.61 0 1 0 -5.22 0zM221.2 60.0a2.62 2.62 0 1 0 5.24 0a2.62 2.62 0 1 0 -5.24 0zM221.9 60.3a2.63 2.63 0 1 0 5.26 0a2.63 2.63 0 1 0 -5.26 0zM222.6 60.7a2.64 2.64 0 1 0 5.29 0a2.64 2.64 0 1 0 -5.29 0zM223.4 61.0a2.66 2.66 0 1 0 5.31 0a2.66 2.66 0 1 0 -5.31 0zM224.1 61.3a2.67 2.67 0 1 0 5.34 0a2.67 2.67 0 1 0 -5.34 0zM224.9 61.7a2.68 2.68 0 1 0 5.36 0a2.68 2.68 0 1 0 -5.36 0zM225.6 62.0a2.69 2.69 0 1 0 5.39 0a2.69 2.69 0 1 0 -5.39 0zM225.6 62.0a2.69 2.69 0 1 0 5.39 0a2.69 2.69 0 1 0 -5.39 0zM226.3 62.5a2.70 2.70 0 1 0 5.41 0a2.70 2.70 0 1 0 -5.41 0zM227.0 63.0a2.71 2.71 0 1 0 5.43 0a2.71 2.71 0 1 0 -5.43 0zM227.6 63.5a2.73 2.73 0 1 0 5.45 0a2.73 2.73 0 1 0 -5.45 0zM228.3 64.0a2.74 2.74 0 1 0 5.47 0a2.74 2.74 0 1 0 -5.47 0zM229.0 64.5a2.75 2.75 0 1 0 5.50 0a2.75 2.75 0 1 0 -5.50 0zM229.7 65.0a2.76 2.76 0 1 0 5.52 0a2.76 2.76 0 1 0 -5.52 0zM230.3 65.5a2.77 2.77 0 1 0 5.54 0a2.77 2.77 0 1 0 -5.54 0zM230.3 65.5a2.77 2.77 0 1 0 5.54 0a2.77 2.77 0 1 0 -5.54 0zM231.0 65.9a2.78 2.78 0 1 0 5.56 0a2.78 2.78 0 1 0 -5.56 0zM231.8 66.3a2.79 2.79 0 1 0 5.59 0a2.79 2.79 0 1 0 -5.59 0zM232.5 66.7a2.80 2.80 0 1 0 5.60 0a2.80 2.80 0 1 0 -5.60 0zM233.2 67.1a2.80 2.80 0 1 0 5.60 0a2.80 2.80 0 1 0 -5.60 0zM233.9 67.5a2.80 2.80 0 1 0 5.60 0a2.80 2.80 0 1 0 -5.60 0zM234.6 67.9a2.80 2.80 0 1 0 5.60 0a2.80 2.80 0 1 0 -5.60 0zM235.4 68.3a2.80 2.80 0 1 0 5.60 0a2.80 2.80 0 1 0 -5.60 0zM236.1 68.7a2.80 2.80 0 1 0 5.60 0a2.80 2.80 0 1 0 -5.60 0zM236.8 69.1a2.80 2.80 0 1 0 5.60 0a2.80 2.80 0 1 0 -5.60 0zM237.5 69.5a2.80 2.80 0 1 0 5.60 0a2.80 2.80 0 1 0 -5.60 0zM238.2 69.9a2.80 2.80 0 1 0 5.60 0a2.80 2.80 0 1 0 -5.60 0zM239.0 70.3a2.80 2.80 0 1 0 5.60 0a2.80 2.80 0 1 0 -5.60 0zM239.7 70.7a2.80 2.80 0 1 0 5.60 0a2.80 2.80 0 1 0 -5.60 0zM240.4 71.1a2.80 2.80 0 1 0 5.60 0a2.80 2.80 0 1 0 -5.60 0zM241.1 71.5a2.80 2.80 0 1 0 5.60 0a2.80 2.80 0 1 0 -5.60 0zM241.9 71.9a2.80 2.80 0 1 0 5.60 0a2.80 2.80 0 1 0 -5.60 0zM242.6 72.3a2.80 2.80 0 1 0 5.60 0a2.80 2.80 0 1 0 -5.60 0zM243.3 72.7a2.80 2.80 0 1 0 5.60 0a2.80 2.80 0 1 0 -5.60 0zM243.3 72.7a2.80 2.80 0 1 0 5.60 0a2.80 2.80 0 1 0 -5.60 0zM244.0 73.1a2.80 2.80 0 1 0 5.60 0a2.80 2.80 0 1 0 -5.60 0zM244.7 73.5a2.80 2.80 0 1 0 5.60 0a2.80 2.80 0 1 0 -5.60 0zM245.4 73.9a2.80 2.80 0 1 0 5.60 0a2.80 2.80 0 1 0 -5.60 0zM246.1 74.3a2.80 2.80 0 1 0 5.60 0a2.80 2.80 0 1 0 -5.60 0zM246.7 74.7a2.80 2.80 0 1 0 5.60 0a2.80 2.80 0 1 0 -5.60 0zM247.4 75.1a2.80 2.80 0 1 0 5.60 0a2.80 2.80 0 1 0 -5.60 0zM248.1 75.6a2.80 2.80 0 1 0 5.60 0a2.80 2.80 0 1 0 -5.60 0zM248.8 76.0a2.80 2.80 0 1 0 5.60 0a2.80 2.80 0 1 0 -5.60 0zM249.5 76.4a2.80 2.80 0 1 0 5.60 0a2.80 2.80 0 1 0 -5.60 0zM250.2 76.8a2.80 2.80 0 1 0 5.60 0a2.80 2.80 0 1 0 -5.60 0zM250.9 77.2a2.80 2.80 0 1 0 5.60 0a2.80 2.80 0 1 0 -5.60 0zM251.6 77.6a2.80 2.80 0 1 0 5.60 0a2.80 2.80 0 1 0 -5.60 0zM252.3 78.0a2.80 2.80 0 1 0 5.60 0a2.80 2.80 0 1 0 -5.60 0zM253.0 78.4a2.80 2.80 0 1 0 5.60 0a2.80 2.80 0 1 0 -5.60 0zM253.6 78.8a2.80 2.80 0 1 0 5.60 0a2.80 2.80 0 1 0 -5.60 0zM254.3 79.2a2.80 2.80 0 1 0 5.60 0a2.80 2.80 0 1 0 -5.60 0zM255.0 79.7a2.80 2.80 0 1 0 5.60 0a2.80 2.80 0 1 0 -5.60 0zM255.7 80.1a2.80 2.80 0 1 0 5.60 0a2.80 2.80 0 1 0 -5.60 0zM256.4 80.5a2.80 2.80 0 1 0 5.60 0a2.80 2.80 0 1 0 -5.60 0zM256.4 80.5a2.80 2.80 0 1 0 5.60 0a2.80 2.80 0 1 0 -5.60 0zM257.1 80.9a2.80 2.80 0 1 0 5.60 0a2.80 2.80 0 1 0 -5.60 0zM257.8 81.3a2.80 2.80 0 1 0 5.60 0a2.80 2.80 0 1 0 -5.60 0zM258.4 81.7a2.80 2.80 0 1 0 5.60 0a2.80 2.80 0 1 0 -5.60 0zM259.1 82.1a2.80 2.80 0 1 0 5.60 0a2.80 2.80 0 1 0 -5.60 0zM259.8 82.6a2.80 2.80 0 1 0 5.60 0a2.80 2.80 0 1 0 -5.60 0zM260.5 83.0a2.80 2.80 0 1 0 5.60 0a2.80 2.80 0 1 0 -5.60 0zM261.2 83.4a2.80 2.80 0 1 0 5.60 0a2.80 2.80 0 1 0 -5.60 0zM261.9 83.8a2.80 2.80 0 1 0 5.60 0a2.80 2.80 0 1 0 -5.60 0zM262.5 84.2a2.80 2.80 0 1 0 5.60 0a2.80 2.80 0 1 0 -5.60 0zM263.2 84.6a2.80 2.80 0 1 0 5.60 0a2.80 2.80 0 1 0 -5.60 0zM263.9 85.1a2.80 2.80 0 1 0 5.60 0a2.80 2.80 0 1 0 -5.60 0zM264.6 85.5a2.80 2.80 0 1 0 5.60 0a2.80 2.80 0 1 0 -5.60 0zM264.6 85.5a2.80 2.80 0 1 0 5.60 0a2.80 2.80 0 1 0 -5.60 0zM265.4 85.9a2.80 2.80 0 1 0 5.60 0a2.80 2.80 0 1 0 -5.60 0zM266.2 86.3a2.80 2.80 0 1 0 5.60 0a2.80 2.80 0 1 0 -5.60 0zM267.0 86.7a2.80 2.80 0 1 0 5.60 0a2.80 2.80 0 1 0 -5.60 0zM267.8 87.1a2.80 2.80 0 1 0 5.60 0a2.80 2.80 0 1 0 -5.60 0zM268.6 87.6a2.80 2.80 0 1 0 5.60 0a2.80 2.80 0 1 0 -5.60 0zM269.4 88.0a2.80 2.80 0 1 0 5.60 0a2.80 2.80 0 1 0 -5.60 0zM269.4 88.0a2.80 2.80 0 1 0 5.60 0a2.80 2.80 0 1 0 -5.60 0zM270.1 88.4a2.80 2.80 0 1 0 5.60 0a2.80 2.80 0 1 0 -5.60 0zM270.8 88.8a2.80 2.80 0 1 0 5.60 0a2.80 2.80 0 1 0 -5.60 0zM271.5 89.2a2.80 2.80 0 1 0 5.60 0a2.80 2.80 0 1 0 -5.60 0zM272.2 89.6a2.80 2.80 0 1 0 5.60 0a2.80 2.80 0 1 0 -5.60 0zM272.9 90.0a2.80 2.80 0 1 0 5.60 0a2.80 2.80 0 1 0 -5.60 0zM273.6 90.4a2.80 2.80 0 1 0 5.60 0a2.80 2.80 0 1 0 -5.60 0zM274.3 90.8a2.80 2.80 0 1 0 5.60 0a2.80 2.80 0 1 0 -5.60 0zM275.0 91.2a2.80 2.80 0 1 0 5.60 0a2.80 2.80 0 1 0 -5.60 0zM275.7 91.6a2.80 2.80 0 1 0 5.60 0a2.80 2.80 0 1 0 -5.60 0zM276.4 92.0a2.80 2.80 0 1 0 5.60 0a2.80 2.80 0 1 0 -5.60 0zM276.4 92.0a2.80 2.80 0 1 0 5.60 0a2.80 2.80 0 1 0 -5.60 0zM277.2 92.4a2.80 2.80 0 1 0 5.60 0a2.80 2.80 0 1 0 -5.60 0zM277.9 92.8a2.80 2.80 0 1 0 5.60 0a2.80 2.80 0 1 0 -5.60 0zM278.7 93.1a2.80 2.80 0 1 0 5.60 0a2.80 2.80 0 1 0 -5.60 0zM279.4 93.5a2.80 2.80 0 1 0 5.60 0a2.80 2.80 0 1 0 -5.60 0zM280.2 93.9a2.80 2.80 0 1 0 5.60 0a2.80 2.80 0 1 0 -5.60 0zM281.0 94.3a2.80 2.80 0 1 0 5.60 0a2.80 2.80 0 1 0 -5.60 0zM281.7 94.7a2.80 2.80 0 1 0 5.60 0a2.80 2.80 0 1 0 -5.60 0zM282.5 95.1a2.80 2.80 0 1 0 5.60 0a2.80 2.80 0 1 0 -5.60 0zM282.5 95.1a2.80 2.80 0 1 0 5.60 0a2.80 2.80 0 1 0 -5.60 0zM283.3 95.5a2.80 2.80 0 1 0 5.60 0a2.80 2.80 0 1 0 -5.60 0zM284.0 95.9a2.80 2.80 0 1 0 5.60 0a2.80 2.80 0 1 0 -5.60 0zM284.8 96.3a2.80 2.80 0 1 0 5.60 0a2.80 2.80 0 1 0 -5.60 0zM285.6 96.8a2.80 2.80 0 1 0 5.60 0a2.80 2.80 0 1 0 -5.60 0zM286.3 97.2a2.80 2.80 0 1 0 5.60 0a2.80 2.80 0 1 0 -5.60 0zM287.1 97.6a2.80 2.80 0 1 0 5.60 0a2.80 2.80 0 1 0 -5.60 0zM287.9 98.0a2.80 2.80 0 1 0 5.60 0a2.80 2.80 0 1 0 -5.60 0zM288.6 98.5a2.80 2.80 0 1 0 5.60 0a2.80 2.80 0 1 0 -5.60 0zM289.4 98.9a2.79 2.79 0 1 0 5.58 0a2.79 2.79 0 1 0 -5.58 0zM289.4 98.9a2.79 2.79 0 1 0 5.58 0a2.79 2.79 0 1 0 -5.58 0zM290.0 99.5a2.75 2.75 0 1 0 5.51 0a2.75 2.75 0 1 0 -5.51 0zM290.7 100.0a2.72 2.72 0 1 0 5.44 0a2.72 2.72 0 1 0 -5.44 0zM291.3 100.6a2.68 2.68 0 1 0 5.37 0a2.68 2.68 0 1 0 -5.37 0zM291.9 101.2a2.65 2.65 0 1 0 5.30 0a2.65 2.65 0 1 0 -5.30 0zM292.5 101.8a2.62 2.62 0 1 0 5.23 0a2.62 2.62 0 1 0 -5.23 0zM293.2 102.3a2.58 2.58 0 1 0 5.16 0a2.58 2.58 0 1 0 -5.16 0zM293.8 102.9a2.55 2.55 0 1 0 5.09 0a2.55 2.55 0 1 0 -5.09 0zM294.4 103.5a2.51 2.51 0 1 0 5.03 0a2.51 2.51 0 1 0 -5.03 0zM295.0 104.1a2.48 2.48 0 1 0 4.96 0a2.48 2.48 0 1 0 -4.96 0zM295.7 104.7a2.44 2.44 0 1 0 4.89 0a2.44 2.44 0 1 0 -4.89 0zM296.3 105.2a2.41 2.41 0 1 0 4.82 0a2.41 2.41 0 1 0 -4.82 0zM296.3 105.2a2.41 2.41 0 1 0 4.82 0a2.41 2.41 0 1 0 -4.82 0zM296.9 105.8a2.38 2.38 0 1 0 4.75 0a2.38 2.38 0 1 0 -4.75 0zM297.5 106.4a2.34 2.34 0 1 0 4.69 0a2.34 2.34 0 1 0 -4.69 0zM298.0 107.0a2.31 2.31 0 1 0 4.63 0a2.31 2.31 0 1 0 -4.63 0zM298.6 107.6a2.28 2.28 0 1 0 4.56 0a2.28 2.28 0 1 0 -4.56 0zM299.2 108.2a2.25 2.25 0 1 0 4.50 0a2.25 2.25 0 1 0 -4.50 0zM299.8 108.8a2.22 2.22 0 1 0 4.43 0a2.22 2.22 0 1 0 -4.43 0zM300.4 109.4a2.18 2.18 0 1 0 4.37 0a2.18 2.18 0 1 0 -4.37 0zM300.9 110.0a2.15 2.15 0 1 0 4.30 0a2.15 2.15 0 1 0 -4.30 0zM301.5 110.6a2.12 2.12 0 1 0 4.24 0a2.12 2.12 0 1 0 -4.24 0zM302.1 111.2a2.10 2.10 0 1 0 4.20 0a2.10 2.10 0 1 0 -4.20 0zM302.6 111.8a2.10 2.10 0 1 0 4.20 0a2.10 2.10 0 1 0 -4.20 0zM303.2 112.5a2.10 2.10 0 1 0 4.20 0a2.10 2.10 0 1 0 -4.20 0zM303.2 112.5a2.10 2.10 0 1 0 4.20 0a2.10 2.10 0 1 0 -4.20 0zM303.8 113.1a2.10 2.10 0 1 0 4.20 0a2.10 2.10 0 1 0 -4.20 0zM304.4 113.6a2.10 2.10 0 1 0 4.20 0a2.10 2.10 0 1 0 -4.20 0zM305.0 114.2a2.10 2.10 0 1 0 4.20 0a2.10 2.10 0 1 0 -4.20 0zM305.6 114.8a2.10 2.10 0 1 0 4.20 0a2.10 2.10 0 1 0 -4.20 0zM306.2 115.4a2.10 2.10 0 1 0 4.20 0a2.10 2.10 0 1 0 -4.20 0zM306.7 116.0a2.10 2.10 0 1 0 4.20 0a2.10 2.10 0 1 0 -4.20 0zM307.3 116.6a2.10 2.10 0 1 0 4.20 0a2.10 2.10 0 1 0 -4.20 0zM307.9 117.2a2.10 2.10 0 1 0 4.20 0a2.10 2.10 0 1 0 -4.20 0zM308.5 117.8a2.10 2.10 0 1 0 4.20 0a2.10 2.10 0 1 0 -4.20 0zM309.1 118.4a2.10 2.10 0 1 0 4.20 0a2.10 2.10 0 1 0 -4.20 0zM309.7 119.0a2.10 2.10 0 1 0 4.20 0a2.10 2.10 0 1 0 -4.20 0zM309.7 119.0a2.10 2.10 0 1 0 4.20 0a2.10 2.10 0 1 0 -4.20 0zM310.2 119.7a2.10 2.10 0 1 0 4.20 0a2.10 2.10 0 1 0 -4.20 0zM310.8 120.5a2.10 2.10 0 1 0 4.20 0a2.10 2.10 0 1 0 -4.20 0zM311.3 121.3a2.10 2.10 0 1 0 4.20 0a2.10 2.10 0 1 0 -4.20 0zM311.9 122.1a2.10 2.10 0 1 0 4.20 0a2.10 2.10 0 1 0 -4.20 0zM314.8 123.9a2.00 2.00 0 1 0 4.00 0a2.00 2.00 0 1 0 -4.00 0zM323.2 125.8a2.00 2.00 0 1 0 4.00 0a2.00 2.00 0 1 0 -4.00 0zM325.2 128.4a2.00 2.00 0 1 0 4.00 0a2.00 2.00 0 1 0 -4.00 0zM326.6 129.8a2.00 2.00 0 1 0 4.00 0a2.00 2.00 0 1 0 -4.00 0zM330.7 131.9a2.00 2.00 0 1 0 4.00 0a2.00 2.00 0 1 0 -4.00 0zM339.3 134.8a2.00 2.00 0 1 0 4.00 0a2.00 2.00 0 1 0 -4.00 0zM346.1 137.2a2.00 2.00 0 1 0 4.00 0a2.00 2.00 0 1 0 -4.00 0zM346.7 141.1a2.00 2.00 0 1 0 4.00 0a2.00 2.00 0 1 0 -4.00 0zM353.2 145.4a2.00 2.00 0 1 0 4.00 0a2.00 2.00 0 1 0 -4.00 0zM363.0 150.9a2.00 2.00 0 1 0 4.00 0a2.00 2.00 0 1 0 -4.00 0zM377.8 158.9a2.00 2.00 0 1 0 4.00 0a2.00 2.00 0 1 0 -4.00 0zM398.9 172.7a2.00 2.00 0 1 0 4.00 0a2.00 2.00 0 1 0 -4.00 0z"/>
<path fill="#CC79A7" d="M85.2 18.5a2.05 2.05 0 1 0 4.10 0a2.05 2.05 0 1 0 -4.10 0zM86.2 18.5a2.05 2.05 0 1 0 4.10 0a2.05 2.05 0 1 0 -4.10 0zM87.2 18.5a2.05 2.05 0 1 0 4.10 0a2.05 2.05 0 1 0 -4.10 0zM91.4 18.5a2.05 2.05 0 1 0 4.10 0a2.05 2.05 0 1 0 -4.10 0zM92.2 18.5a2.05 2.05 0 1 0 4.10 0a2.05 2.05 0 1 0 -4.10 0zM93.0 18.6a2.05 2.05 0 1 0 4.10 0a2.05 2.05 0 1 0 -4.10 0zM93.9 18.6a2.05 2.05 0 1 0 4.10 0a2.05 2.05 0 1 0 -4.10 0zM94.7 18.6a2.05 2.05 0 1 0 4.10 0a2.05 2.05 0 1 0 -4.10 0zM95.6 18.6a2.05 2.05 0 1 0 4.10 0a2.05 2.05 0 1 0 -4.10 0zM96.4 18.6a2.05 2.05 0 1 0 4.10 0a2.05 2.05 0 1 0 -4.10 0zM97.3 18.6a2.05 2.05 0 1 0 4.10 0a2.05 2.05 0 1 0 -4.10 0zM98.1 18.6a2.05 2.05 0 1 0 4.10 0a2.05 2.05 0 1 0 -4.10 0zM99.0 18.7a2.05 2.05 0 1 0 4.10 0a2.05 2.05 0 1 0 -4.10 0zM99.8 18.7a2.05 2.05 0 1 0 4.10 0a2.05 2.05 0 1 0 -4.10 0zM100.7 18.7a2.05 2.05 0 1 0 4.10 0a2.05 2.05 0 1 0 -4.10 0zM101.5 18.7a2.05 2.05 0 1 0 4.10 0a2.05 2.05 0 1 0 -4.10 0zM102.4 18.7a2.05 2.05 0 1 0 4.10 0a2.05 2.05 0 1 0 -4.10 0zM103.2 18.7a2.05 2.05 0 1 0 4.10 0a2.05 2.05 0 1 0 -4.10 0zM104.0 18.7a2.05 2.05 0 1 0 4.10 0a2.05 2.05 0 1 0 -4.10 0zM104.0 18.7a2.05 2.05 0 1 0 4.10 0a2.05 2.05 0 1 0 -4.10 0zM104.9 18.8a2.05 2.05 0 1 0 4.10 0a2.05 2.05 0 1 0 -4.10 0zM105.7 18.8a2.05 2.05 0 1 0 4.10 0a2.05 2.05 0 1 0 -4.10 0zM106.5 18.8a2.05 2.05 0 1 0 4.10 0a2.05 2.05 0 1 0 -4.10 0zM107.3 18.9a2.05 2.05 0 1 0 4.10 0a2.05 2.05 0 1 0 -4.10 0zM108.1 18.9a2.05 2.05 0 1 0 4.10 0a2.05 2.05 0 1 0 -4.10 0zM109.0 19.0a2.05 2.05 0 1 0 4.10 0a2.05 2.05 0 1 0 -4.10 0zM109.8 19.0a2.05 2.05 0 1 0 4.10 0a2.05 2.05 0 1 0 -4.10 0zM110.6 19.0a2.05 2.05 0 1 0 4.10 0a2.05 2.05 0 1 0 -4.10 0zM111.4 19.1a2.05 2.05 0 1 0 4.10 0a2.05 2.05 0 1 0 -4.10 0zM112.2 19.1a2.05 2.05 0 1 0 4.10 0a2.05 2.05 0 1 0 -4.10 0zM113.1 19.1a2.05 2.05 0 1 0 4.10 0a2.05 2.05 0 1 0 -4.10 0zM113.9 19.2a2.05 2.05 0 1 0 4.10 0a2.05 2.05 0 1 0 -4.10 0zM114.7 19.2a2.05 2.05 0 1 0 4.10 0a2.05 2.05 0 1 0 -4.10 0zM115.5 19.3a2.05 2.05 0 1 0 4.10 0a2.05 2.05 0 1 0 -4.10 0zM116.3 19.3a2.05 2.05 0 1 0 4.10 0a2.05 2.05 0 1 0 -4.10 0zM117.2 19.3a2.05 2.05 0 1 0 4.10 0a2.05 2.05 0 1 0 -4.10 0zM117.2 19.3a2.05 2.05 0 1 0 4.10 0a2.05 2.05 0 1 0 -4.10 0zM118.0 19.5a2.05 2.05 0 1 0 4.10 0a2.05 2.05 0 1 0 -4.10 0zM118.8 19.6a2.05 2.05 0 1 0 4.10 0a2.05 2.05 0 1 0 -4.10 0zM119.6 19.7a2.05 2.05 0 1 0 4.10 0a2.05 2.05 0 1 0 -4.10 0zM120.4 19.9a2.05 2.05 0 1 0 4.10 0a2.05 2.05 0 1 0 -4.10 0zM121.2 20.0a2.05 2.05 0 1 0 4.10 0a2.05 2.05 0 1 0 -4.10 0zM122.0 20.1a2.05 2.05 0 1 0 4.10 0a2.05 2.05 0 1 0 -4.10 0zM122.8 20.2a2.05 2.05 0 1 0 4.10 0a2.05 2.05 0 1 0 -4.10 0zM123.6 20.4a2.05 2.05 0 1 0 4.10 0a2.05 2.05 0 1 0 -4.10 0zM124.5 20.5a2.05 2.05 0 1 0 4.10 0a2.05 2.05 0 1 0 -4.10 0zM125.3 20.6a2.05 2.05 0 1 0 4.10 0a2.05 2.05 0 1 0 -4.10 0zM126.1 20.8a2.05 2.05 0 1 0 4.10 0a2.05 2.05 0 1 0 -4.10 0zM126.9 20.9a2.05 2.05 0 1 0 4.10 0a2.05 2.05 0 1 0 -4.10 0zM127.7 21.0a2.05 2.05 0 1 0 4.10 0a2.05 2.05 0 1 0 -4.10 0zM128.5 21.2a2.05 2.05 0 1 0 4.10 0a2.05 2.05 0 1 0 -4.10 0zM129.3 21.3a2.05 2.05 0 1 0 4.10 0a2.05 2.05 0 1 0 -4.10 0zM130.1 21.4a2.05 2.05 0 1 0 4.10 0a2.05 2.05 0 1 0 -4.10 0zM130.1 21.4a2.05 2.05 0 1 0 4.10 0a2.05 2.05 0 1 0 -4.10 0zM131.0 21.6a2.05 2.05 0 1 0 4.10 0a2.05 2.05 0 1 0 -4.10 0zM131.8 21.9a2.05 2.05 0 1 0 4.10 0a2.05 2.05 0 1 0 -4.10 0zM132.6 22.1a2.05 2.05 0 1 0 4.10 0a2.05 2.05 0 1 0 -4.10 0zM133.4 22.3a2.05 2.05 0 1 0 4.10 0a2.05 2.05 0 1 0 -4.10 0zM134.2 22.5a2.05 2.05 0 1 0 4.10 0a2.05 2.05 0 1 0 -4.10 0zM135.0 22.7a2.05 2.05 0 1 0 4.10 0a2.05 2.05 0 1 0 -4.10 0zM135.8 22.9a2.05 2.05 0 1 0 4.10 0a2.05 2.05 0 1 0 -4.10 0zM136.6 23.1a2.05 2.05 0 1 0 4.10 0a2.05 2.05 0 1 0 -4.10 0zM136.6 23.1a2.05 2.05 0 1 0 4.10 0a2.05 2.05 0 1 0 -4.10 0zM137.5 23.4a2.05 2.05 0 1 0 4.10 0a2.05 2.05 0 1 0 -4.10 0zM138.3 23.6a2.05 2.05 0 1 0 4.10 0a2.05 2.05 0 1 0 -4.10 0zM139.1 23.8a2.05 2.05 0 1 0 4.10 0a2.05 2.05 0 1 0 -4.10 0zM139.9 24.1a2.05 2.05 0 1 0 4.10 0a2.05 2.05 0 1 0 -4.10 0zM140.8 24.3a2.05 2.05 0 1 0 4.10 0a2.05 2.05 0 1 0 -4.10 0zM141.6 24.6a2.05 2.05 0 1 0 4.10 0a2.05 2.05 0 1 0 -4.10 0zM142.4 24.8a2.05 2.05 0 1 0 4.10 0a2.05 2.05 0 1 0 -4.10 0zM143.2 25.0a2.05 2.05 0 1 0 4.10 0a2.05 2.05 0 1 0 -4.10 0zM143.2 25.0a2.05 2.05 0 1 0 4.10 0a2.05 2.05 0 1 0 -4.10 0zM144.0 25.3a2.05 2.05 0 1 0 4.10 0a2.05 2.05 0 1 0 -4.10 0zM144.8 25.6a2.05 2.05 0 1 0 4.10 0a2.05 2.05 0 1 0 -4.10 0zM145.6 25.9a2.05 2.05 0 1 0 4.10 0a2.05 2.05 0 1 0 -4.10 0zM146.4 26.2a2.05 2.05 0 1 0 4.10 0a2.05 2.05 0 1 0 -4.10 0zM147.2 26.5a2.05 2.05 0 1 0 4.10 0a2.05 2.05 0 1 0 -4.10 0zM147.9 26.8a2.05 2.05 0 1 0 4.10 0a2.05 2.05 0 1 0 -4.10 0zM147.9 26.8a2.05 2.05 0 1 0 4.10 0a2.05 2.05 0 1 0 -4.10 0zM148.8 27.2a2.05 2.05 0 1 0 4.10 0a2.05 2.05 0 1 0 -4.10 0zM149.6 27.6a2.05 2.05 0 1 0 4.10 0a2.05 2.05 0 1 0 -4.10 0zM150.4 28.0a2.05 2.05 0 1 0 4.10 0a2.05 2.05 0 1 0 -4.10 0zM151.2 28.3a2.05 2.05 0 1 0 4.10 0a2.05 2.05 0 1 0 -4.10 0zM151.2 28.3a2.05 2.05 0 1 0 4.10 0a2.05 2.05 0 1 0 -4.10 0zM152.0 28.7a2.05 2.05 0 1 0 4.10 0a2.05 2.05 0 1 0 -4.10 0zM152.7 29.1a2.05 2.05 0 1 0 4.10 0a2.05 2.05 0 1 0 -4.10 0zM153.4 29.5a2.05 2.05 0 1 0 4.10 0a2.05 2.05 0 1 0 -4.10 0zM154.1 29.9a2.05 2.05 0 1 0 4.10 0a2.05 2.05 0 1 0 -4.10 0zM154.8 30.3a2.05 2.05 0 1 0 4.10 0a2.05 2.05 0 1 0 -4.10 0zM155.5 30.7a2.05 2.05 0 1 0 4.10 0a2.05 2.05 0 1 0 -4.10 0zM156.2 31.1a2.05 2.05 0 1 0 4.10 0a2.05 2.05 0 1 0 -4.10 0zM156.2 31.1a2.05 2.05 0 1 0 4.10 0a2.05 2.05 0 1 0 -4.10 0zM157.1 31.6a2.05 2.05 0 1 0 4.10 0a2.05 2.05 0 1 0 -4.10 0zM157.8 32.0a2.05 2.05 0 1 0 4.10 0a2.05 2.05 0 1 0 -4.10 0zM158.6 32.5a2.05 2.05 0 1 0 4.10 0a2.05 2.05 0 1 0 -4.10 0zM159.4 32.9a2.05 2.05 0 1 0 4.10 0a2.05 2.05 0 1 0 -4.10 0zM160.2 33.4a2.05 2.05 0 1 0 4.10 0a2.05 2.05 0 1 0 -4.10 0zM161.0 33.8a2.05 2.05 0 1 0 4.10 0a2.05 2.05 0 1 0 -4.10 0zM161.0 33.8a2.05 2.05 0 1 0 4.10 0a2.05 2.05 0 1 0 -4.10 0zM161.7 34.2a2.05 2.05 0 1 0 4.10 0a2.05 2.05 0 1 0 -4.10 0zM162.4 34.6a2.05 2.05 0 1 0 4.10 0a2.05 2.05 0 1 0 -4.10 0zM163.1 35.0a2.05 2.05 0 1 0 4.10 0a2.05 2.05 0 1 0 -4.10 0zM163.8 35.4a2.05 2.05 0 1 0 4.10 0a2.05 2.05 0 1 0 -4.10 0zM164.5 35.8a2.05 2.05 0 1 0 4.10 0a2.05 2.05 0 1 0 -4.10 0zM165.2 36.2a2.05 2.05 0 1 0 4.10 0a2.05 2.05 0 1 0 -4.10 0zM165.9 36.6a2.05 2.05 0 1 0 4.10 0a2.05 2.05 0 1 0 -4.10 0zM166.6 37.0a2.05 2.05 0 1 0 4.10 0a2.05 2.05 0 1 0 -4.10 0zM167.3 37.4a2.05 2.05 0 1 0 4.10 0a2.05 2.05 0 1 0 -4.10 0zM168.0 37.8a2.05 2.05 0 1 0 4.10 0a2.05 2.05 0 1 0 -4.10 0zM168.8 38.2a2.05 2.05 0 1 0 4.10 0a2.05 2.05 0 1 0 -4.10 0zM169.4 38.5a2.05 2.05 0 1 0 4.10 0a2.05 2.05 0 1 0 -4.10 0zM170.2 38.9a2.05 2.05 0 1 0 4.10 0a2.05 2.05 0 1 0 -4.10 0zM170.8 39.3a2.05 2.05 0 1 0 4.10 0a2.05 2.05 0 1 0 -4.10 0zM170.8 39.3a2.05 2.05 0 1 0 4.10 0a2.05 2.05 0 1 0 -4.10 0zM171.6 39.8a2.05 2.05 0 1 0 4.10 0a2.05 2.05 0 1 0 -4.10 0zM172.4 40.2a2.05 2.05 0 1 0 4.10 0a2.05 2.05 0 1 0 -4.10 0zM173.2 40.6a2.05 2.05 0 1 0 4.10 0a2.05 2.05 0 1 0 -4.10 0zM174.0 41.0a2.05 2.05 0 1 0 4.10 0a2.05 2.05 0 1 0 -4.10 0zM174.0 41.0a2.05 2.05 0 1 0 4.10 0a2.05 2.05 0 1 0 -4.10 0zM174.8 41.4a2.05 2.05 0 1 0 4.10 0a2.05 2.05 0 1 0 -4.10 0zM175.5 41.8a2.05 2.05 0 1 0 4.10 0a2.05 2.05 0 1 0 -4.10 0zM176.2 42.2a2.05 2.05 0 1 0 4.10 0a2.05 2.05 0 1 0 -4.10 0zM177.0 42.5a2.05 2.05 0 1 0 4.10 0a2.05 2.05 0 1 0 -4.10 0zM177.7 42.9a2.05 2.05 0 1 0 4.10 0a2.05 2.05 0 1 0 -4.10 0zM178.4 43.3a2.05 2.05 0 1 0 4.10 0a2.05 2.05 0 1 0 -4.10 0zM179.2 43.7a2.05 2.05 0 1 0 4.10 0a2.05 2.05 0 1 0 -4.10 0zM179.9 44.1a2.05 2.05 0 1 0 4.10 0a2.05 2.05 0 1 0 -4.10 0zM180.6 44.4a2.05 2.05 0 1 0 4.10 0a2.05 2.05 0 1 0 -4.10 0zM180.6 44.4a2.05 2.05 0 1 0 4.10 0a2.05 2.05 0 1 0 -4.10 0zM181.4 44.8a2.05 2.05 0 1 0 4.10 0a2.05 2.05 0 1 0 -4.10 0zM182.1 45.3a2.05 2.05 0 1 0 4.10 0a2.05 2.05 0 1 0 -4.10 0zM182.8 45.7a2.05 2.05 0 1 0 4.10 0a2.05 2.05 0 1 0 -4.10 0zM183.5 46.1a2.05 2.05 0 1 0 4.10 0a2.05 2.05 0 1 0 -4.10 0zM184.3 46.5a2.05 2.05 0 1 0 4.10 0a2.05 2.05 0 1 0 -4.10 0zM185.0 46.9a2.05 2.05 0 1 0 4.10 0a2.05 2.05 0 1 0 -4.10 0zM185.7 47.3a2.05 2.05 0 1 0 4.10 0a2.05 2.05 0 1 0 -4.10 0zM186.4 47.7a2.05 2.05 0 1 0 4.10 0a2.05 2.05 0 1 0 -4.10 0zM187.1 48.1a2.05 2.05 0 1 0 4.10 0a2.05 2.05 0 1 0 -4.10 0zM187.1 48.1a2.05 2.05 0 1 0 4.10 0a2.05 2.05 0 1 0 -4.10 0zM187.9 48.5a2.05 2.05 0 1 0 4.10 0a2.05 2.05 0 1 0 -4.10 0zM188.6 48.9a2.06 2.06 0 1 0 4.12 0a2.06 2.06 0 1 0 -4.12 0zM189.3 49.3a2.07 2.07 0 1 0 4.14 0a2.07 2.07 0 1 0 -4.14 0zM190.0 49.7a2.08 2.08 0 1 0 4.16 0a2.08 2.08 0 1 0 -4.16 0zM190.7 50.1a2.09 2.09 0 1 0 4.18 0a2.09 2.09 0 1 0 -4.18 0zM191.4 50.5a2.10 2.10 0 1 0 4.20 0a2.10 2.10 0 1 0 -4.20 0zM192.2 50.9a2.11 2.11 0 1 0 4.22 0a2.11 2.11 0 1 0 -4.22 0zM192.9 51.3a2.12 2.12 0 1 0 4.24 0a2.12 2.12 0 1 0 -4.24 0zM192.9 51.3a2.12 2.12 0 1 0 4.24 0a2.12 2.12 0 1 0 -4.24 0zM193.6 51.7a2.13 2.13 0 1 0 4.27 0a2.13 2.13 0 1 0 -4.27 0zM194.3 52.1a2.14 2.14 0 1 0 4.29 0a2.14 2.14 0 1 0 -4.29 0zM195.0 52.5a2.15 2.15 0 1 0 4.31 0a2.15 2.15 0 1 0 -4.31 0zM195.7 52.9a2.16 2.16 0 1 0 4.33 0a2.16 2.16 0 1 0 -4.33 0zM196.4 53.3a2.17 2.17 0 1 0 4.35 0a2.17 2.17 0 1 0 -4.35 0zM197.1 53.7a2.18 2.18 0 1 0 4.37 0a2.18 2.18 0 1 0 -4.37 0zM197.8 54.1a2.20 2.20 0 1 0 4.39 0a2.20 2.20 0 1 0 -4.39 0zM198.6 54.5a2.21 2.21 0 1 0 4.41 0a2.21 2.21 0 1 0 -4.41 0zM199.3 54.9a2.22 2.22 0 1 0 4.43 0a2.22 2.22 0 1 0 -4.43 0zM200.0 55.3a2.23 2.23 0 1 0 4.45 0a2.23 2.23 0 1 0 -4.45 0zM200.0 55.3a2.23 2.23 0 1 0 4.45 0a2.23 2.23 0 1 0 -4.45 0zM200.7 55.7a2.24 2.24 0 1 0 4.47 0a2.24 2.24 0 1 0 -4.47 0zM201.4 56.1a2.25 2.25 0 1 0 4.49 0a2.25 2.25 0 1 0 -4.49 0zM202.1 56.5a2.26 2.26 0 1 0 4.52 0a2.26 2.26 0 1 0 -4.52 0zM202.8 56.8a2.27 2.27 0 1 0 4.54 0a2.27 2.27 0 1 0 -4.54 0zM203.6 57.2a2.28 2.28 0 1 0 4.56 0a2.28 2.28 0 1 0 -4.56 0zM204.3 57.6a2.29 2.29 0 1 0 4.58 0a2.29 2.29 0 1 0 -4.58 0zM205.0 57.9a2.30 2.30 0 1 0 4.60 0a2.30 2.30 0 1 0 -4.60 0zM205.7 58.3a2.31 2.31 0 1 0 4.62 0a2.31 2.31 0 1 0 -4.62 0zM206.4 58.7a2.32 2.32 0 1 0 4.64 0a2.32 2.32 0 1 0 -4.64 0zM207.1 59.1a2.33 2.33 0 1 0 4.66 0a2.33 2.33 0 1 0 -4.66 0zM207.9 59.4a2.34 2.34 0 1 0 4.68 0a2.34 2.34 0 1 0 -4.68 0zM208.6 59.8a2.35 2.35 0 1 0 4.70 0a2.35 2.35 0 1 0 -4.70 0zM209.3 60.2a2.36 2.36 0 1 0 4.73 0a2.36 2.36 0 1 0 -4.73 0zM210.0 60.6a2.37 2.37 0 1 0 4.75 0a2.37 2.37 0 1 0 -4.75 0zM210.7 60.9a2.38 2.38 0 1 0 4.77 0a2.38 2.38 0 1 0 -4.77 0zM211.5 61.3a2.39 2.39 0 1 0 4.79 0a2.39 2.39 0 1 0 -4.79 0zM212.2 61.7a2.40 2.40 0 1 0 4.81 0a2.40 2.40 0 1 0 -4.81 0zM212.9 62.0a2.42 2.42 0 1 0 4.83 0a2.42 2.42 0 1 0 -4.83 0zM212.9 62.0a2.42 2.42 0 1 0 4.83 0a2.42 2.42 0 1 0 -4.83 0zM213.7 62.3a2.43 2.43 0 1 0 4.85 0a2.43 2.43 0 1 0 -4.85 0zM214.4 62.6a2.44 2.44 0 1 0 4.88 0a2.44 2.44 0 1 0 -4.88 0zM215.2 62.9a2.45 2.45 0 1 0 4.90 0a2.45 2.45 0 1 0 -4.90 0zM216.0 63.1a2.46 2.46 0 1 0 4.92 0a2.46 2.46 0 1 0 -4.92 0zM216.7 63.4a2.47 2.47 0 1 0 4.94 0a2.47 2.47 0 1 0 -4.94 0zM217.5 63.7a2.48 2.48 0 1 0 4.97 0a2.48 2.48 0 1 0 -4.97 0zM217.5 63.7a2.48 2.48 0 1 0 4.97 0a2.48 2.48 0 1 0 -4.97 0zM218.3 64.1a2.49 2.49 0 1 0 4.99 0a2.49 2.49 0 1 0 -4.99 0zM219.0 64.5a2.51 2.51 0 1 0 5.01 0a2.51 2.51 0 1 0 -5.01 0zM219.7 64.9a2.52 2.52 0 1 0 5.03 0a2.52 2.52 0 1 0 -5.03 0zM220.5 65.2a2.53 2.53 0 1 0 5.05 0a2.53 2.53 0 1 0 -5.05 0zM221.2 65.6a2.54 2.54 0 1 0 5.08 0a2.54 2.54 0 1 0 -5.08 0zM222.0 66.0a2.55 2.55 0 1 0 5.10 0a2.55 2.55 0 1 0 -5.10 0zM222.7 66.4a2.56 2.56 0 1 0 5.12 0a2.56 2.56 0 1 0 -5.12 0zM223.5 66.8a2.57 2.57 0 1 0 5.14 0a2.57 2.57 0 1 0 -5.14 0zM224.2 67.2a2.58 2.58 0 1 0 5.16 0a2.58 2.58 0 1 0 -5.16 0zM225.0 67.6a2.59 2.59 0 1 0 5.18 0a2.59 2.59 0 1 0 -5.18 0zM225.7 68.0a2.60 2.60 0 1 0 5.21 0a2.60 2.60 0 1 0 -5.21 0zM225.7 68.0a2.60 2.60 0 1 0 5.21 0a2.60 2.60 0 1 0 -5.21 0zM226.4 68.4a2.61 2.61 0 1 0 5.23 0a2.61 2.61 0 1 0 -5.23 0zM227.0 68.9a2.62 2.62 0 1 0 5.25 0a2.62 2.62 0 1 0 -5.25 0zM227.7 69.4a2.63 2.63 0 1 0 5.27 0a2.63 2.63 0 1 0 -5.27 0zM228.4 69.9a2.64 2.64 0 1 0 5.29 0a2.64 2.64 0 1 0 -5.29 0zM229.1 70.3a2.65 2.65 0 1 0 5.31 0a2.65 2.65 0 1 0 -5.31 0zM229.8 70.8a2.66 2.66 0 1 0 5.33 0a2.66 2.66 0 1 0 -5.33 0zM230.4 71.3a2.67 2.67 0 1 0 5.35 0a2.67 2.67 0 1 0 -5.35 0zM230.4 71.3a2.67 2.67 0 1 0 5.35 0a2.67 2.67 0 1 0 -5.35 0zM231.1 71.7a2.68 2.68 0 1 0 5.37 0a2.68 2.68 0 1 0 -5.37 0zM231.9 72.1a2.69 2.69 0 1 0 5.39 0a2.69 2.69 0 1 0 -5.39 0zM232.6 72.5a2.70 2.70 0 1 0 5.40 0a2.70 2.70 0 1 0 -5.40 0zM233.3 72.9a2.70 2.70 0 1 0 5.40 0a2.70 2.70 0 1 0 -5.40 0zM234.0 73.3a2.70 2.70 0 1 0 5.40 0a2.70 2.70 0 1 0 -5.40 0zM234.7 73.7a2.70 2.70 0 1 0 5.40 0a2.70 2.70 0 1 0 -5.40 0zM235.5 74.1a2.70 2.70 0 1 0 5.40 0a2.70 2.70 0 1 0 -5.40 0zM236.2 74.5a2.70 2.70 0 1 0 5.40 0a2.70 2.70 0 1 0 -5.40 0zM236.9 74.9a2.70 2.70 0 1 0 5.40 0a2.70 2.70 0 1 0 -5.40 0zM237.6 75.3a2.70 2.70 0 1 0 5.40 0a2.70 2.70 0 1 0 -5.40 0zM238.3 75.7a2.70 2.70 0 1 0 5.40 0a2.70 2.70 0 1 0 -5.40 0zM239.1 76.1a2.70 2.70 0 1 0 5.40 0a2.70 2.70 0 1 0 -5.40 0zM239.8 76.5a2.70 2.70 0 1 0 5.40 0a2.70 2.70 0 1 0 -5.40 0zM240.5 76.9a2.70 2.70 0 1 0 5.40 0a2.70 2.70 0 1 0 -5.40 0zM241.2 77.3a2.70 2.70 0 1 0 5.40 0a2.70 2.70 0 1 0 -5.40 0zM242.0 77.7a2.70 2.70 0 1 0 5.40 0a2.70 2.70 0 1 0 -5.40 0zM242.7 78.1a2.70 2.70 0 1 0 5.40 0a2.70 2.70 0 1 0 -5.40 0zM243.4 78.5a2.70 2.70 0 1 0 5.40 0a2.70 2.70 0 1 0 -5.40 0zM243.4 78.5a2.70 2.70 0 1 0 5.40 0a2.70 2.70 0 1 0 -5.40 0zM244.1 78.9a2.70 2.70 0 1 0 5.40 0a2.70 2.70 0 1 0 -5.40 0zM244.9 79.4a2.70 2.70 0 1 0 5.40 0a2.70 2.70 0 1 0 -5.40 0zM245.6 79.8a2.70 2.70 0 1 0 5.40 0a2.70 2.70 0 1 0 -5.40 0zM246.3 80.2a2.70 2.70 0 1 0 5.40 0a2.70 2.70 0 1 0 -5.40 0zM247.0 80.6a2.70 2.70 0 1 0 5.40 0a2.70 2.70 0 1 0 -5.40 0zM247.8 81.0a2.70 2.70 0 1 0 5.40 0a2.70 2.70 0 1 0 -5.40 0zM248.5 81.4a2.70 2.70 0 1 0 5.40 0a2.70 2.70 0 1 0 -5.40 0zM249.2 81.9a2.70 2.70 0 1 0 5.40 0a2.70 2.70 0 1 0 -5.40 0zM249.9 82.3a2.70 2.70 0 1 0 5.40 0a2.70 2.70 0 1 0 -5.40 0zM250.7 82.7a2.70 2.70 0 1 0 5.40 0a2.70 2.70 0 1 0 -5.40 0zM251.4 83.1a2.70 2.70 0 1 0 5.40 0a2.70 2.70 0 1 0 -5.40 0zM252.1 83.5a2.70 2.70 0 1 0 5.40 0a2.70 2.70 0 1 0 -5.40 0zM252.9 83.9a2.70 2.70 0 1 0 5.40 0a2.70 2.70 0 1 0 -5.40 0zM253.6 84.4a2.70 2.70 0 1 0 5.40 0a2.70 2.70 0 1 0 -5.40 0zM254.3 84.8a2.70 2.70 0 1 0 5.40 0a2.70 2.70 0 1 0 -5.40 0zM255.0 85.2a2.70 2.70 0 1 0 5.40 0a2.70 2.70 0 1 0 -5.40 0zM255.8 85.6a2.70 2.70 0 1 0 5.40 0a2.70 2.70 0 1 0 -5.40 0zM256.5 86.0a2.70 2.70 0 1 0 5.40 0a2.70 2.70 0 1 0 -5.40 0zM256.5 86.0a2.70 2.70 0 1 0 5.40 0a2.70 2.70 0 1 0 -5.40 0zM257.1 86.5a2.70 2.70 0 1 0 5.40 0a2.70 2.70 0 1 0 -5.40 0zM257.8 87.0a2.70 2.70 0 1 0 5.40 0a2.70 2.70 0 1 0 -5.40 0zM258.4 87.4a2.70 2.70 0 1 0 5.40 0a2.70 2.70 0 1 0 -5.40 0zM259.1 87.9a2.70 2.70 0 1 0 5.40 0a2.70 2.70 0 1 0 -5.40 0zM259.8 88.4a2.68 2.68 0 1 0 5.36 0a2.68 2.68 0 1 0 -5.36 0zM260.5 88.8a2.65 2.65 0 1 0 5.29 0a2.65 2.65 0 1 0 -5.29 0zM261.1 89.3a2.61 2.61 0 1 0 5.23 0a2.61 2.61 0 1 0 -5.23 0zM261.8 89.7a2.58 2.58 0 1 0 5.16 0a2.58 2.58 0 1 0 -5.16 0zM262.5 90.2a2.55 2.55 0 1 0 5.09 0a2.55 2.55 0 1 0 -5.09 0zM263.2 90.6a2.52 2.52 0 1 0 5.03 0a2.52 2.52 0 1 0 -5.03 0zM263.2 90.6a2.52 2.52 0 1 0 5.03 0a2.52 2.52 0 1 0 -5.03 0zM263.9 91.1a2.48 2.48 0 1 0 4.96 0a2.48 2.48 0 1 0 -4.96 0zM264.6 91.6a2.45 2.45 0 1 0 4.90 0a2.45 2.45 0 1 0 -4.90 0zM265.3 92.1a2.41 2.41 0 1 0 4.83 0a2.41 2.41 0 1 0 -4.83 0zM266.0 92.6a2.38 2.38 0 1 0 4.76 0a2.38 2.38 0 1 0 -4.76 0zM266.7 93.2a2.35 2.35 0 1 0 4.70 0a2.35 2.35 0 1 0 -4.70 0zM267.4 93.7a2.31 2.31 0 1 0 4.63 0a2.31 2.31 0 1 0 -4.63 0zM268.1 94.2a2.28 2.28 0 1 0 4.56 0a2.28 2.28 0 1 0 -4.56 0zM268.8 94.7a2.25 2.25 0 1 0 4.49 0a2.25 2.25 0 1 0 -4.49 0zM269.5 95.2a2.21 2.21 0 1 0 4.43 0a2.21 2.21 0 1 0 -4.43 0zM270.2 95.7a2.18 2.18 0 1 0 4.36 0a2.18 2.18 0 1 0 -4.36 0zM270.2 95.7a2.18 2.18 0 1 0 4.36 0a2.18 2.18 0 1 0 -4.36 0zM270.9 96.4a2.15 2.15 0 1 0 4.30 0a2.15 2.15 0 1 0 -4.30 0zM271.5 97.0a2.12 2.12 0 1 0 4.24 0a2.12 2.12 0 1 0 -4.24 0zM272.2 97.7a2.09 2.09 0 1 0 4.17 0a2.09 2.09 0 1 0 -4.17 0zM272.8 98.3a2.06 2.06 0 1 0 4.11 0a2.06 2.06 0 1 0 -4.11 0zM273.5 98.9a2.03 2.03 0 1 0 4.05 0a2.03 2.03 0 1 0 -4.05 0zM274.1 99.6a2.00 2.00 0 1 0 4.00 0a2.00 2.00 0 1 0 -4.00 0zM274.1 99.6a2.00 2.00 0 1 0 4.00 0a2.00 2.00 0 1 0 -4.00 0zM274.7 100.1a2.00 2.00 0 1 0 4.00 0a2.00 2.00 0 1 0 -4.00 0zM275.3 100.7a2.00 2.00 0 1 0 4.00 0a2.00 2.00 0 1 0 -4.00 0zM276.0 101.2a2.00 2.00 0 1 0 4.00 0a2.00 2.00 0 1 0 -4.00 0zM276.6 101.8a2.00 2.00 0 1 0 4.00 0a2.00 2.00 0 1 0 -4.00 0zM277.2 102.3a2.00 2.00 0 1 0 4.00 0a2.00 2.00 0 1 0 -4.00 0zM277.2 102.3a2.00 2.00 0 1 0 4.00 0a2.00 2.00 0 1 0 -4.00 0zM277.7 103.0a2.00 2.00 0 1 0 4.00 0a2.00 2.00 0 1 0 -4.00 0zM278.2 103.6a2.00 2.00 0 1 0 4.00 0a2.00 2.00 0 1 0 -4.00 0zM278.7 104.3a2.00 2.00 0 1 0 4.00 0a2.00 2.00 0 1 0 -4.00 0zM279.1 104.9a2.00 2.00 0 1 0 4.00 0a2.00 2.00 0 1 0 -4.00 0zM279.6 105.6a2.00 2.00 0 1 0 4.00 0a2.00 2.00 0 1 0 -4.00 0zM280.1 106.3a2.00 2.00 0 1 0 4.00 0a2.00 2.00 0 1 0 -4.00 0zM280.6 106.9a2.00 2.00 0 1 0 4.00 0a2.00 2.00 0 1 0 -4.00 0zM281.1 107.6a2.00 2.00 0 1 0 4.00 0a2.00 2.00 0 1 0 -4.00 0zM281.1 107.6a2.00 2.00 0 1 0 4.00 0a2.00 2.00 0 1 0 -4.00 0zM281.8 108.1a2.00 2.00 0 1 0 4.00 0a2.00 2.00 0 1 0 -4.00 0zM282.4 108.6a2.00 2.00 0 1 0 4.00 0a2.00 2.00 0 1 0 -4.00 0zM283.1 109.2a2.00 2.00 0 1 0 4.00 0a2.00 2.00 0 1 0 -4.00 0zM283.7 109.7a2.00 2.00 0 1 0 4.00 0a2.00 2.00 0 1 0 -4.00 0zM284.4 110.2a2.00 2.00 0 1 0 4.00 0a2.00 2.00 0 1 0 -4.00 0zM285.0 110.8a2.00 2.00 0 1 0 4.00 0a2.00 2.00 0 1 0 -4.00 0zM285.7 111.3a2.00 2.00 0 1 0 4.00 0a2.00 2.00 0 1 0 -4.00 0zM286.3 111.8a2.00 2.00 0 1 0 4.00 0a2.00 2.00 0 1 0 -4.00 0zM286.3 111.8a2.00 2.00 0 1 0 4.00 0a2.00 2.00 0 1 0 -4.00 0zM286.9 112.5a2.00 2.00 0 1 0 4.00 0a2.00 2.00 0 1 0 -4.00 0zM287.5 113.2a2.00 2.00 0 1 0 4.00 0a2.00 2.00 0 1 0 -4.00 0zM288.2 113.8a2.00 2.00 0 1 0 4.00 0a2.00 2.00 0 1 0 -4.00 0zM288.8 114.5a2.00 2.00 0 1 0 4.00 0a2.00 2.00 0 1 0 -4.00 0zM289.4 115.2a2.00 2.00 0 1 0 4.00 0a2.00 2.00 0 1 0 -4.00 0zM290.9 117.2a2.00 2.00 0 1 0 4.00 0a2.00 2.00 0 1 0 -4.00 0zM295.4 119.6a2.00 2.00 0 1 0 4.00 0a2.00 2.00 0 1 0 -4.00 0zM296.8 123.5a2.00 2.00 0 1 0 4.00 0a2.00 2.00 0 1 0 -4.00 0zM304.6 126.6a2.00 2.00 0 1 0 4.00 0a2.00 2.00 0 1 0 -4.00 0zM306.2 129.6a2.00 2.00 0 1 0 4.00 0a2.00 2.00 0 1 0 -4.00 0zM308.0 131.5a2.00 2.00 0 1 0 4.00 0a2.00 2.00 0 1 0 -4.00 0zM313.1 135.8a2.00 2.00 0 1 0 4.00 0a2.00 2.00 0 1 0 -4.00 0zM317.4 140.1a2.00 2.00 0 1 0 4.00 0a2.00 2.00 0 1 0 -4.00 0zM318.3 146.0a2.00 2.00 0 1 0 4.00 0a2.00 2.00 0 1 0 -4.00 0zM328.1 153.3a2.00 2.00 0 1 0 4.00 0a2.00 2.00 0 1 0 -4.00 0zM330.1 167.5a2.00 2.00 0 1 0 4.00 0a2.00 2.00 0 1 0 -4.00 0z"/>
<line x1="197.00" y1="-0.85" x2="557.50" y2="337.10" stroke="#009E73" stroke-opacity="0.58" stroke-width="2.5" stroke-linecap="square"/>
<line x1="197.00" y1="-11.91" x2="557.50" y2="326.04" stroke="#E69F00" stroke-opacity="0.58" stroke-width="2.5" stroke-linecap="square"/>
<line x1="197.00" y1="15.30" x2="557.50" y2="353.25" stroke="#0072B2" stroke-opacity="0.58" stroke-width="2.5" stroke-linecap="square"/>
<line x1="197.00" y1="25.40" x2="557.50" y2="363.35" stroke="#CC79A7" stroke-opacity="0.58" stroke-width="2.5" stroke-linecap="square"/>
<line x1="521.4" y1="8.9" x2="521.4" y2="331.0" stroke="#808080" stroke-opacity="0.68" stroke-width="2.2"/>
<line x1="74.6" y1="319.8" x2="608.1" y2="319.8" stroke="#808080" stroke-opacity="0.7" stroke-width="2"/>
<polygon points="491.00,159.30 494.03,168.63 503.84,168.63 495.90,174.39 498.94,183.72 491.00,177.96 483.06,183.72 486.10,174.39 478.16,168.63 487.97,168.63" fill="#0072B2" fill-opacity="0.3"/>
<polygon points="521.20,186.70 524.23,196.03 534.04,196.03 526.10,201.79 529.14,211.12 521.20,205.36 513.26,211.12 516.30,201.79 508.36,196.03 518.17,196.03" fill="#009E73" fill-opacity="1.0"/>
</g>
<path d="M74.50 331.0v3.0M74.50 8.9v-3.0" stroke="#000" stroke-width="1.0"/>
<path d="M87.20 331.0v3.0M87.20 8.9v-3.0" stroke="#000" stroke-width="1.0"/>
<path d="M96.21 331.0v3.0M96.21 8.9v-3.0" stroke="#000" stroke-width="1.0"/>
<path d="M103.20 331.0v3.0M103.20 8.9v-3.0" stroke="#000" stroke-width="1.0"/>
<path d="M108.90 331.0v3.0M108.90 8.9v-3.0" stroke="#000" stroke-width="1.0"/>
<path d="M113.73 331.0v3.0M113.73 8.9v-3.0" stroke="#000" stroke-width="1.0"/>
<path d="M117.91 331.0v3.0M117.91 8.9v-3.0" stroke="#000" stroke-width="1.0"/>
<path d="M121.60 331.0v3.0M121.60 8.9v-3.0" stroke="#000" stroke-width="1.0"/>
<path d="M124.90 331.0v5.3M124.90 8.9v-5.3" stroke="#000" stroke-width="1.35"/>
<path d="M146.60 331.0v3.0M146.60 8.9v-3.0" stroke="#000" stroke-width="1.0"/>
<path d="M159.30 331.0v3.0M159.30 8.9v-3.0" stroke="#000" stroke-width="1.0"/>
<path d="M168.31 331.0v3.0M168.31 8.9v-3.0" stroke="#000" stroke-width="1.0"/>
<path d="M175.30 331.0v3.0M175.30 8.9v-3.0" stroke="#000" stroke-width="1.0"/>
<path d="M181.00 331.0v3.0M181.00 8.9v-3.0" stroke="#000" stroke-width="1.0"/>
<path d="M185.83 331.0v3.0M185.83 8.9v-3.0" stroke="#000" stroke-width="1.0"/>
<path d="M190.01 331.0v3.0M190.01 8.9v-3.0" stroke="#000" stroke-width="1.0"/>
<path d="M193.70 331.0v3.0M193.70 8.9v-3.0" stroke="#000" stroke-width="1.0"/>
<path d="M197.00 331.0v5.3M197.00 8.9v-5.3" stroke="#000" stroke-width="1.35"/>
<path d="M218.70 331.0v3.0M218.70 8.9v-3.0" stroke="#000" stroke-width="1.0"/>
<path d="M231.40 331.0v3.0M231.40 8.9v-3.0" stroke="#000" stroke-width="1.0"/>
<path d="M240.41 331.0v3.0M240.41 8.9v-3.0" stroke="#000" stroke-width="1.0"/>
<path d="M247.40 331.0v3.0M247.40 8.9v-3.0" stroke="#000" stroke-width="1.0"/>
<path d="M253.10 331.0v3.0M253.10 8.9v-3.0" stroke="#000" stroke-width="1.0"/>
<path d="M257.93 331.0v3.0M257.93 8.9v-3.0" stroke="#000" stroke-width="1.0"/>
<path d="M262.11 331.0v3.0M262.11 8.9v-3.0" stroke="#000" stroke-width="1.0"/>
<path d="M265.80 331.0v3.0M265.80 8.9v-3.0" stroke="#000" stroke-width="1.0"/>
<path d="M269.10 331.0v5.3M269.10 8.9v-5.3" stroke="#000" stroke-width="1.35"/>
<path d="M290.80 331.0v3.0M290.80 8.9v-3.0" stroke="#000" stroke-width="1.0"/>
<path d="M303.50 331.0v3.0M303.50 8.9v-3.0" stroke="#000" stroke-width="1.0"/>
<path d="M312.51 331.0v3.0M312.51 8.9v-3.0" stroke="#000" stroke-width="1.0"/>
<path d="M319.50 331.0v3.0M319.50 8.9v-3.0" stroke="#000" stroke-width="1.0"/>
<path d="M325.20 331.0v3.0M325.20 8.9v-3.0" stroke="#000" stroke-width="1.0"/>
<path d="M330.03 331.0v3.0M330.03 8.9v-3.0" stroke="#000" stroke-width="1.0"/>
<path d="M334.21 331.0v3.0M334.21 8.9v-3.0" stroke="#000" stroke-width="1.0"/>
<path d="M337.90 331.0v3.0M337.90 8.9v-3.0" stroke="#000" stroke-width="1.0"/>
<path d="M341.20 331.0v5.3M341.20 8.9v-5.3" stroke="#000" stroke-width="1.35"/>
<path d="M362.90 331.0v3.0M362.90 8.9v-3.0" stroke="#000" stroke-width="1.0"/>
<path d="M375.60 331.0v3.0M375.60 8.9v-3.0" stroke="#000" stroke-width="1.0"/>
<path d="M384.61 331.0v3.0M384.61 8.9v-3.0" stroke="#000" stroke-width="1.0"/>
<path d="M391.60 331.0v3.0M391.60 8.9v-3.0" stroke="#000" stroke-width="1.0"/>
<path d="M397.30 331.0v3.0M397.30 8.9v-3.0" stroke="#000" stroke-width="1.0"/>
<path d="M402.13 331.0v3.0M402.13 8.9v-3.0" stroke="#000" stroke-width="1.0"/>
<path d="M406.31 331.0v3.0M406.31 8.9v-3.0" stroke="#000" stroke-width="1.0"/>
<path d="M410.00 331.0v3.0M410.00 8.9v-3.0" stroke="#000" stroke-width="1.0"/>
<path d="M413.30 331.0v5.3M413.30 8.9v-5.3" stroke="#000" stroke-width="1.35"/>
<path d="M435.00 331.0v3.0M435.00 8.9v-3.0" stroke="#000" stroke-width="1.0"/>
<path d="M447.70 331.0v3.0M447.70 8.9v-3.0" stroke="#000" stroke-width="1.0"/>
<path d="M456.71 331.0v3.0M456.71 8.9v-3.0" stroke="#000" stroke-width="1.0"/>
<path d="M463.70 331.0v3.0M463.70 8.9v-3.0" stroke="#000" stroke-width="1.0"/>
<path d="M469.40 331.0v3.0M469.40 8.9v-3.0" stroke="#000" stroke-width="1.0"/>
<path d="M474.23 331.0v3.0M474.23 8.9v-3.0" stroke="#000" stroke-width="1.0"/>
<path d="M478.41 331.0v3.0M478.41 8.9v-3.0" stroke="#000" stroke-width="1.0"/>
<path d="M482.10 331.0v3.0M482.10 8.9v-3.0" stroke="#000" stroke-width="1.0"/>
<path d="M485.40 331.0v5.3M485.40 8.9v-5.3" stroke="#000" stroke-width="1.35"/>
<path d="M507.10 331.0v3.0M507.10 8.9v-3.0" stroke="#000" stroke-width="1.0"/>
<path d="M519.80 331.0v3.0M519.80 8.9v-3.0" stroke="#000" stroke-width="1.0"/>
<path d="M528.81 331.0v3.0M528.81 8.9v-3.0" stroke="#000" stroke-width="1.0"/>
<path d="M535.80 331.0v3.0M535.80 8.9v-3.0" stroke="#000" stroke-width="1.0"/>
<path d="M541.50 331.0v3.0M541.50 8.9v-3.0" stroke="#000" stroke-width="1.0"/>
<path d="M546.33 331.0v3.0M546.33 8.9v-3.0" stroke="#000" stroke-width="1.0"/>
<path d="M550.51 331.0v3.0M550.51 8.9v-3.0" stroke="#000" stroke-width="1.0"/>
<path d="M554.20 331.0v3.0M554.20 8.9v-3.0" stroke="#000" stroke-width="1.0"/>
<path d="M557.50 331.0v5.3M557.50 8.9v-5.3" stroke="#000" stroke-width="1.35"/>
<path d="M579.20 331.0v3.0M579.20 8.9v-3.0" stroke="#000" stroke-width="1.0"/>
<path d="M591.90 331.0v3.0M591.90 8.9v-3.0" stroke="#000" stroke-width="1.0"/>
<path d="M600.91 331.0v3.0M600.91 8.9v-3.0" stroke="#000" stroke-width="1.0"/>
<path d="M607.90 331.0v3.0M607.90 8.9v-3.0" stroke="#000" stroke-width="1.0"/>
<path d="M74.6 330.92h-3.0M608.1 330.92h3.0" stroke="#000" stroke-width="1.0"/>
<path d="M74.6 327.36h-3.0M608.1 327.36h3.0" stroke="#000" stroke-width="1.0"/>
<path d="M74.6 324.34h-3.0M608.1 324.34h3.0" stroke="#000" stroke-width="1.0"/>
<path d="M74.6 321.73h-3.0M608.1 321.73h3.0" stroke="#000" stroke-width="1.0"/>
<path d="M74.6 319.42h-3.0M608.1 319.42h3.0" stroke="#000" stroke-width="1.0"/>
<path d="M74.6 317.36h-5.3M608.1 317.36h5.3" stroke="#000" stroke-width="1.35"/>
<path d="M74.6 303.80h-3.0M608.1 303.80h3.0" stroke="#000" stroke-width="1.0"/>
<path d="M74.6 295.86h-3.0M608.1 295.86h3.0" stroke="#000" stroke-width="1.0"/>
<path d="M74.6 290.23h-3.0M608.1 290.23h3.0" stroke="#000" stroke-width="1.0"/>
<path d="M74.6 285.86h-3.0M608.1 285.86h3.0" stroke="#000" stroke-width="1.0"/>
<path d="M74.6 282.30h-3.0M608.1 282.30h3.0" stroke="#000" stroke-width="1.0"/>
<path d="M74.6 279.28h-3.0M608.1 279.28h3.0" stroke="#000" stroke-width="1.0"/>
<path d="M74.6 276.67h-3.0M608.1 276.67h3.0" stroke="#000" stroke-width="1.0"/>
<path d="M74.6 274.36h-3.0M608.1 274.36h3.0" stroke="#000" stroke-width="1.0"/>
<path d="M74.6 272.30h-5.3M608.1 272.30h5.3" stroke="#000" stroke-width="1.35"/>
<path d="M74.6 258.74h-3.0M608.1 258.74h3.0" stroke="#000" stroke-width="1.0"/>
<path d="M74.6 250.80h-3.0M608.1 250.80h3.0" stroke="#000" stroke-width="1.0"/>
<path d="M74.6 245.17h-3.0M608.1 245.17h3.0" stroke="#000" stroke-width="1.0"/>
<path d="M74.6 240.80h-3.0M608.1 240.80h3.0" stroke="#000" stroke-width="1.0"/>
<path d="M74.6 237.24h-3.0M608.1 237.24h3.0" stroke="#000" stroke-width="1.0"/>
<path d="M74.6 234.22h-3.0M608.1 234.22h3.0" stroke="#000" stroke-width="1.0"/>
<path d="M74.6 231.61h-3.0M608.1 231.61h3.0" stroke="#000" stroke-width="1.0"/>
<path d="M74.6 229.30h-3.0M608.1 229.30h3.0" stroke="#000" stroke-width="1.0"/>
<path d="M74.6 227.24h-5.3M608.1 227.24h5.3" stroke="#000" stroke-width="1.35"/>
<path d="M74.6 213.68h-3.0M608.1 213.68h3.0" stroke="#000" stroke-width="1.0"/>
<path d="M74.6 205.74h-3.0M608.1 205.74h3.0" stroke="#000" stroke-width="1.0"/>
<path d="M74.6 200.11h-3.0M608.1 200.11h3.0" stroke="#000" stroke-width="1.0"/>
<path d="M74.6 195.74h-3.0M608.1 195.74h3.0" stroke="#000" stroke-width="1.0"/>
<path d="M74.6 192.18h-3.0M608.1 192.18h3.0" stroke="#000" stroke-width="1.0"/>
<path d="M74.6 189.16h-3.0M608.1 189.16h3.0" stroke="#000" stroke-width="1.0"/>
<path d="M74.6 186.55h-3.0M608.1 186.55h3.0" stroke="#000" stroke-width="1.0"/>
<path d="M74.6 184.24h-3.0M608.1 184.24h3.0" stroke="#000" stroke-width="1.0"/>
<path d="M74.6 182.18h-5.3M608.1 182.18h5.3" stroke="#000" stroke-width="1.35"/>
<path d="M74.6 168.62h-3.0M608.1 168.62h3.0" stroke="#000" stroke-width="1.0"/>
<path d="M74.6 160.68h-3.0M608.1 160.68h3.0" stroke="#000" stroke-width="1.0"/>
<path d="M74.6 155.05h-3.0M608.1 155.05h3.0" stroke="#000" stroke-width="1.0"/>
<path d="M74.6 150.68h-3.0M608.1 150.68h3.0" stroke="#000" stroke-width="1.0"/>
<path d="M74.6 147.12h-3.0M608.1 147.12h3.0" stroke="#000" stroke-width="1.0"/>
<path d="M74.6 144.10h-3.0M608.1 144.10h3.0" stroke="#000" stroke-width="1.0"/>
<path d="M74.6 141.49h-3.0M608.1 141.49h3.0" stroke="#000" stroke-width="1.0"/>
<path d="M74.6 139.18h-3.0M608.1 139.18h3.0" stroke="#000" stroke-width="1.0"/>
<path d="M74.6 137.12h-5.3M608.1 137.12h5.3" stroke="#000" stroke-width="1.35"/>
<path d="M74.6 123.56h-3.0M608.1 123.56h3.0" stroke="#000" stroke-width="1.0"/>
<path d="M74.6 115.62h-3.0M608.1 115.62h3.0" stroke="#000" stroke-width="1.0"/>
<path d="M74.6 109.99h-3.0M608.1 109.99h3.0" stroke="#000" stroke-width="1.0"/>
<path d="M74.6 105.62h-3.0M608.1 105.62h3.0" stroke="#000" stroke-width="1.0"/>
<path d="M74.6 102.06h-3.0M608.1 102.06h3.0" stroke="#000" stroke-width="1.0"/>
<path d="M74.6 99.04h-3.0M608.1 99.04h3.0" stroke="#000" stroke-width="1.0"/>
<path d="M74.6 96.43h-3.0M608.1 96.43h3.0" stroke="#000" stroke-width="1.0"/>
<path d="M74.6 94.12h-3.0M608.1 94.12h3.0" stroke="#000" stroke-width="1.0"/>
<path d="M74.6 92.06h-5.3M608.1 92.06h5.3" stroke="#000" stroke-width="1.35"/>
<path d="M74.6 78.50h-3.0M608.1 78.50h3.0" stroke="#000" stroke-width="1.0"/>
<path d="M74.6 70.56h-3.0M608.1 70.56h3.0" stroke="#000" stroke-width="1.0"/>
<path d="M74.6 64.93h-3.0M608.1 64.93h3.0" stroke="#000" stroke-width="1.0"/>
<path d="M74.6 60.56h-3.0M608.1 60.56h3.0" stroke="#000" stroke-width="1.0"/>
<path d="M74.6 57.00h-3.0M608.1 57.00h3.0" stroke="#000" stroke-width="1.0"/>
<path d="M74.6 53.98h-3.0M608.1 53.98h3.0" stroke="#000" stroke-width="1.0"/>
<path d="M74.6 51.37h-3.0M608.1 51.37h3.0" stroke="#000" stroke-width="1.0"/>
<path d="M74.6 49.06h-3.0M608.1 49.06h3.0" stroke="#000" stroke-width="1.0"/>
<path d="M74.6 47.00h-5.3M608.1 47.00h5.3" stroke="#000" stroke-width="1.35"/>
<path d="M74.6 33.44h-3.0M608.1 33.44h3.0" stroke="#000" stroke-width="1.0"/>
<path d="M74.6 25.50h-3.0M608.1 25.50h3.0" stroke="#000" stroke-width="1.0"/>
<path d="M74.6 19.87h-3.0M608.1 19.87h3.0" stroke="#000" stroke-width="1.0"/>
<path d="M74.6 15.50h-3.0M608.1 15.50h3.0" stroke="#000" stroke-width="1.0"/>
<path d="M74.6 11.94h-3.0M608.1 11.94h3.0" stroke="#000" stroke-width="1.0"/>
<path d="M74.6 8.92h-3.0M608.1 8.92h3.0" stroke="#000" stroke-width="1.0"/>
<rect x="74.6" y="8.9" width="533.5" height="322.1" fill="none" stroke="#000" stroke-width="1.3"/>
<text x="104.76" y="355.2" font-size="18.0" textLength="22.1" lengthAdjust="spacingAndGlyphs">10</text><text x="127.00" y="348.9" font-size="12.6" textLength="17.6" lengthAdjust="spacingAndGlyphs">−7</text>
<text x="176.86" y="355.2" font-size="18.0" textLength="22.1" lengthAdjust="spacingAndGlyphs">10</text><text x="199.10" y="348.9" font-size="12.6" textLength="17.6" lengthAdjust="spacingAndGlyphs">−6</text>
<text x="248.96" y="355.2" font-size="18.0" textLength="22.1" lengthAdjust="spacingAndGlyphs">10</text><text x="271.20" y="348.9" font-size="12.6" textLength="17.6" lengthAdjust="spacingAndGlyphs">−5</text>
<text x="321.06" y="355.2" font-size="18.0" textLength="22.1" lengthAdjust="spacingAndGlyphs">10</text><text x="343.30" y="348.9" font-size="12.6" textLength="17.6" lengthAdjust="spacingAndGlyphs">−4</text>
<text x="393.16" y="355.2" font-size="18.0" textLength="22.1" lengthAdjust="spacingAndGlyphs">10</text><text x="415.40" y="348.9" font-size="12.6" textLength="17.6" lengthAdjust="spacingAndGlyphs">−3</text>
<text x="465.26" y="355.2" font-size="18.0" textLength="22.1" lengthAdjust="spacingAndGlyphs">10</text><text x="487.50" y="348.9" font-size="12.6" textLength="17.6" lengthAdjust="spacingAndGlyphs">−2</text>
<text x="537.36" y="355.2" font-size="18.0" textLength="22.1" lengthAdjust="spacingAndGlyphs">10</text><text x="559.60" y="348.9" font-size="12.6" textLength="17.6" lengthAdjust="spacingAndGlyphs">−1</text>
<text x="23.86" y="323.56" font-size="18.0" textLength="22.1" lengthAdjust="spacingAndGlyphs">10</text><text x="46.10" y="316.76" font-size="12.6" textLength="17.6" lengthAdjust="spacingAndGlyphs">−4</text>
<text x="23.86" y="278.50" font-size="18.0" textLength="22.1" lengthAdjust="spacingAndGlyphs">10</text><text x="46.10" y="271.70" font-size="12.6" textLength="17.6" lengthAdjust="spacingAndGlyphs">−3</text>
<text x="23.86" y="233.44" font-size="18.0" textLength="22.1" lengthAdjust="spacingAndGlyphs">10</text><text x="46.10" y="226.64" font-size="12.6" textLength="17.6" lengthAdjust="spacingAndGlyphs">−2</text>
<text x="23.86" y="188.38" font-size="18.0" textLength="22.1" lengthAdjust="spacingAndGlyphs">10</text><text x="46.10" y="181.58" font-size="12.6" textLength="17.6" lengthAdjust="spacingAndGlyphs">−1</text>
<text x="32.20" y="143.32" font-size="18.0" textLength="22.1" lengthAdjust="spacingAndGlyphs">10</text><text x="54.40" y="136.52" font-size="12.6" textLength="7.8" lengthAdjust="spacingAndGlyphs">0</text>
<text x="32.20" y="98.26" font-size="18.0" textLength="22.1" lengthAdjust="spacingAndGlyphs">10</text><text x="54.40" y="91.46" font-size="12.6" textLength="7.8" lengthAdjust="spacingAndGlyphs">1</text>
<text x="32.20" y="53.20" font-size="18.0" textLength="22.1" lengthAdjust="spacingAndGlyphs">10</text><text x="54.40" y="46.40" font-size="12.6" textLength="7.8" lengthAdjust="spacingAndGlyphs">2</text>
<text x="196.7" y="381.3" font-size="18.2" textLength="271.1" lengthAdjust="spacingAndGlyphs">Bolometric Peak Flux [erg/s/cm</text>
<text x="468.3" y="374.3" font-size="12.6" textLength="8.6" lengthAdjust="spacingAndGlyphs">2</text>
<text x="479.4" y="381.3" font-size="18.2" textLength="6.8" lengthAdjust="spacingAndGlyphs">]</text>
<text transform="translate(14.4 337.6) rotate(-90)" font-size="19.4" textLength="338.4" lengthAdjust="spacingAndGlyphs">Cumulative Number of Bursts per Year</text>
<rect x="101.2" y="205.2" width="176.2" height="93.0" rx="2.6" ry="2.6" fill="#fff" fill-opacity="0.8" stroke="#cccccc" stroke-width="1"/>
<circle cx="122.6" cy="218.8" r="8.7" fill="#009E73"/>
<text y="223.8" font-size="16.0"><tspan x="149.5" textLength="46.5" lengthAdjust="spacingAndGlyphs">Konus</tspan><tspan x="200.7" textLength="68.0" lengthAdjust="spacingAndGlyphs">(0.064 s)</tspan></text>
<circle cx="122.6" cy="240.9" r="8.7" fill="#E69F00"/>
<text y="245.8" font-size="16.0"><tspan x="149.4" textLength="32.0" lengthAdjust="spacingAndGlyphs">PVO</tspan><tspan x="186.5" textLength="68.0" lengthAdjust="spacingAndGlyphs">(0.250 s)</tspan></text>
<circle cx="122.6" cy="263.0" r="8.7" fill="#0072B2"/>
<text y="267.8" font-size="16.0"><tspan x="149.6" textLength="35.0" lengthAdjust="spacingAndGlyphs">GBM</tspan><tspan x="190.4" textLength="67.5" lengthAdjust="spacingAndGlyphs">(1.024 s)</tspan></text>
<circle cx="122.6" cy="285.1" r="8.7" fill="#CC79A7"/>
<text y="289.8" font-size="16.0"><tspan x="149.1" textLength="49.8" lengthAdjust="spacingAndGlyphs">BATSE</tspan><tspan x="203.6" textLength="68.7" lengthAdjust="spacingAndGlyphs">(2.048 s)</tspan></text>
</svg>
</body>
</html>
